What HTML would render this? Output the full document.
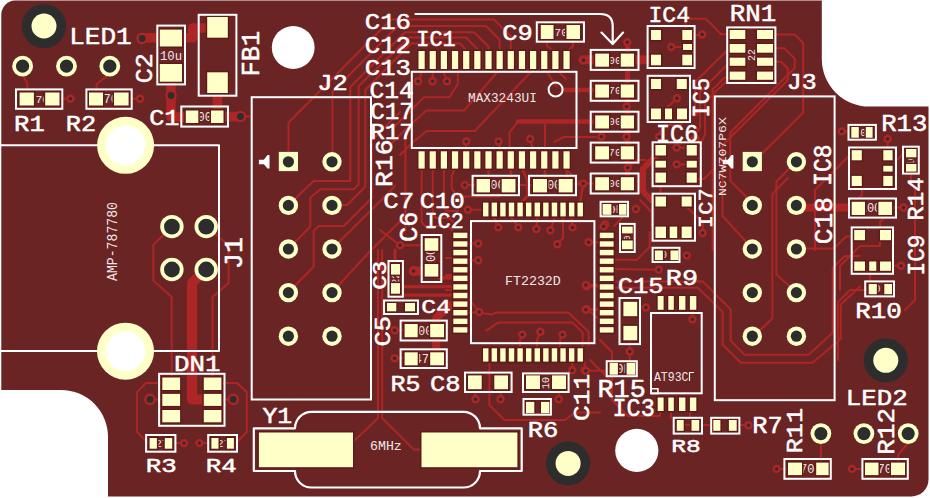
<!DOCTYPE html>
<html><head><meta charset="utf-8"><title>PCB</title>
<style>html,body{margin:0;padding:0;background:#fff;width:930px;height:498px;overflow:hidden}
svg{display:block;font-family:"Liberation Sans",sans-serif}</style></head>
<body>
<svg width="930" height="498" viewBox="0 0 930 498"><rect x="0" y="0" width="930" height="498" fill="#ffffff"/>
<path d="M15 0.6 L821.8 0.6 L821.8 59 A47.6 47.6 0 0 0 869.4 106.6 L928.5 106.6 L928.5 479.4 A17 17 0 0 1 911.5 496.4 L108 496.4 L108 436.8 A46.8 46.8 0 0 0 61.2 390 L1.3 390 L1.3 15 A14 14 0 0 1 15 0.6 Z" fill="#6b2424"/>
<path d="M22.6 74 L27.3 84 L27.3 93" fill="none" stroke="#ad2525" stroke-width="2" stroke-linejoin="round" stroke-linecap="round"/>
<path d="M109.8 74 L96.6 84 L96.6 93" fill="none" stroke="#ad2525" stroke-width="2" stroke-linejoin="round" stroke-linecap="round"/>
<path d="M59 98.8 L70.5 98.8" fill="none" stroke="#ad2525" stroke-width="2" stroke-linejoin="round" stroke-linecap="round"/>
<path d="M128 98.8 L140 98.8" fill="none" stroke="#ad2525" stroke-width="2" stroke-linejoin="round" stroke-linecap="round"/>
<path d="M142 37.8 L182 37.8 L192.7 37.8 L192.7 28 L212 28" fill="none" stroke="#ad2525" stroke-width="9.5" stroke-linejoin="round" stroke-linecap="round"/>
<path d="M171 75 L171 117 L192 117" fill="none" stroke="#ad2525" stroke-width="9.5" stroke-linejoin="round" stroke-linecap="round"/>
<path d="M217.5 85 L217.5 116.5 L240.5 116.5" fill="none" stroke="#ad2525" stroke-width="9.5" stroke-linejoin="round" stroke-linecap="round"/>
<path d="M240.5 116.5 L250 116.5" fill="none" stroke="#ad2525" stroke-width="2" stroke-linejoin="round" stroke-linecap="round"/>
<path d="M172 226.4 L153.3 245 L153.3 280.4 L171.7 297 L171.7 380" fill="none" stroke="#ad2525" stroke-width="2" stroke-linejoin="round" stroke-linecap="round"/>
<path d="M206 226.4 L228.6 245 L228.6 283 L212.5 297 L212.5 380" fill="none" stroke="#ad2525" stroke-width="2" stroke-linejoin="round" stroke-linecap="round"/>
<path d="M206 269 L192 283 L192 399.6 L206 399.6" fill="none" stroke="#ad2525" stroke-width="10" stroke-linejoin="round" stroke-linecap="round"/>
<path d="M150.3 399.6 L162 399.6" fill="none" stroke="#ad2525" stroke-width="2" stroke-linejoin="round" stroke-linecap="round"/>
<path d="M221.5 399.6 L232.9 399.6" fill="none" stroke="#ad2525" stroke-width="2" stroke-linejoin="round" stroke-linecap="round"/>
<path d="M165 383 L146.1 383 L137.1 391.9 L137.1 432 L148 443" fill="none" stroke="#ad2525" stroke-width="2" stroke-linejoin="round" stroke-linecap="round"/>
<path d="M218 383 L237.1 383 L246.8 391.9 L246.8 432 L236 443" fill="none" stroke="#ad2525" stroke-width="2" stroke-linejoin="round" stroke-linecap="round"/>
<path d="M172 443 L184 443" fill="none" stroke="#ad2525" stroke-width="2" stroke-linejoin="round" stroke-linecap="round"/>
<path d="M199.3 443 L211 443" fill="none" stroke="#ad2525" stroke-width="2" stroke-linejoin="round" stroke-linecap="round"/>
<path d="M288.5 152 L288.5 122.5 L391 19.5 L494 19.5 L510.8 36.3 L510.8 52" fill="none" stroke="#ad2525" stroke-width="2" stroke-linejoin="round" stroke-linecap="round"/>
<path d="M332.4 152 L332.4 92 L398 26 L486 26 L499.7 39.7 L499.7 52" fill="none" stroke="#ad2525" stroke-width="2" stroke-linejoin="round" stroke-linecap="round"/>
<path d="M288.5 205 L313.7 181 L350.3 181 L350.3 87 L405 32.3 L474 32.3 L488.5 46.8 L488.5 52" fill="none" stroke="#ad2525" stroke-width="2" stroke-linejoin="round" stroke-linecap="round"/>
<path d="M288.5 248.5 L310.3 226.7 L310.3 197.7 L320.3 189.3 L353.7 189.3 L358.7 184.3 L358.7 86 L409 37.5 L466 37.5 L477.4 49 L477.4 52" fill="none" stroke="#ad2525" stroke-width="2" stroke-linejoin="round" stroke-linecap="round"/>
<path d="M332.4 205 L347 205 L365.3 186.7 L365.3 90 L411 43.5 L460 43.5 L466.2 50 L466.2 52" fill="none" stroke="#ad2525" stroke-width="2" stroke-linejoin="round" stroke-linecap="round"/>
<path d="M288.5 292 L313.7 266.8 L313.7 231 L318.7 226 L343.7 226 L372 197.7 L372 140 L400 112" fill="none" stroke="#ad2525" stroke-width="2" stroke-linejoin="round" stroke-linecap="round"/>
<path d="M332.4 248.5 L370.3 211 L388.7 192.7 L395 186" fill="none" stroke="#ad2525" stroke-width="2" stroke-linejoin="round" stroke-linecap="round"/>
<path d="M332.4 292 L370.3 251 L405.3 216 L412 216" fill="none" stroke="#ad2525" stroke-width="2" stroke-linejoin="round" stroke-linecap="round"/>
<path d="M418 81.2 L421.6 73 L421.6 69" fill="none" stroke="#ad2525" stroke-width="2" stroke-linejoin="round" stroke-linecap="round"/>
<path d="M432.5 81.2 L432.75 73 L432.75 69" fill="none" stroke="#ad2525" stroke-width="2" stroke-linejoin="round" stroke-linecap="round"/>
<path d="M447 81.2 L443.9 73 L443.9 69" fill="none" stroke="#ad2525" stroke-width="2" stroke-linejoin="round" stroke-linecap="round"/>
<path d="M457.8 69 L457.8 84 L449.4 97.3 L424 97.3 L409.6 111.8 L395 126" fill="none" stroke="#ad2525" stroke-width="2" stroke-linejoin="round" stroke-linecap="round"/>
<path d="M500 69 L463.9 110.6 L426.5 110.6 L404.8 130 L392 143" fill="none" stroke="#ad2525" stroke-width="2" stroke-linejoin="round" stroke-linecap="round"/>
<path d="M533.7 69 L474.7 131 L426.5 131 L413.3 142 L400 155" fill="none" stroke="#ad2525" stroke-width="2" stroke-linejoin="round" stroke-linecap="round"/>
<path d="M544.9 69 L556.6 86.5" fill="none" stroke="#ad2525" stroke-width="2" stroke-linejoin="round" stroke-linecap="round"/>
<path d="M562.8 89.9 L596 89.9" fill="none" stroke="#ad2525" stroke-width="4.5" stroke-linejoin="round" stroke-linecap="round"/>
<path d="M556.1 69 L566 79" fill="none" stroke="#ad2525" stroke-width="2" stroke-linejoin="round" stroke-linecap="round"/>
<path d="M518 121.5 L596 121.5" fill="none" stroke="#ad2525" stroke-width="4.5" stroke-linejoin="round" stroke-linecap="round"/>
<path d="M518 121.5 L509.6 132.3 L509.6 151.5" fill="none" stroke="#ad2525" stroke-width="2" stroke-linejoin="round" stroke-linecap="round"/>
<path d="M545 121.5 L545 151.5" fill="none" stroke="#ad2525" stroke-width="2" stroke-linejoin="round" stroke-linecap="round"/>
<path d="M554.2 142 L563.9 137 L596 137" fill="none" stroke="#ad2525" stroke-width="2" stroke-linejoin="round" stroke-linecap="round"/>
<path d="M465.5 141.4 L466.2 148 L466.2 152" fill="none" stroke="#ad2525" stroke-width="2" stroke-linejoin="round" stroke-linecap="round"/>
<path d="M498.8 141.4 L499.7 148 L499.7 152" fill="none" stroke="#ad2525" stroke-width="2" stroke-linejoin="round" stroke-linecap="round"/>
<path d="M530.1 141.4 L533.1 148 L533.1 152" fill="none" stroke="#ad2525" stroke-width="2" stroke-linejoin="round" stroke-linecap="round"/>
<path d="M547 39 L547 46 L555.6 52" fill="none" stroke="#ad2525" stroke-width="2" stroke-linejoin="round" stroke-linecap="round"/>
<path d="M573 39 L573 46 L566.7 52" fill="none" stroke="#ad2525" stroke-width="2" stroke-linejoin="round" stroke-linecap="round"/>
<path d="M421.6 168 L421.6 222 L425 226 L448 226 L452 230" fill="none" stroke="#ad2525" stroke-width="2" stroke-linejoin="round" stroke-linecap="round"/>
<path d="M432.75 168 L432.75 214 L436 218 L449 218 L453 222" fill="none" stroke="#ad2525" stroke-width="2" stroke-linejoin="round" stroke-linecap="round"/>
<path d="M443.9 168 L443.9 208 L447 211 L458 211" fill="none" stroke="#ad2525" stroke-width="2" stroke-linejoin="round" stroke-linecap="round"/>
<path d="M455 168 L451.8 175.7 L451.8 189 L458 196.5 L500 196.5" fill="none" stroke="#ad2525" stroke-width="2" stroke-linejoin="round" stroke-linecap="round"/>
<path d="M405.4 140 L405.4 230 L400 236" fill="none" stroke="#ad2525" stroke-width="2" stroke-linejoin="round" stroke-linecap="round"/>
<path d="M565 168 L580 183.6 L583.3 183.6" fill="none" stroke="#ad2525" stroke-width="2" stroke-linejoin="round" stroke-linecap="round"/>
<path d="M510.8 168 L510.8 181" fill="none" stroke="#ad2525" stroke-width="3" stroke-linejoin="round" stroke-linecap="round"/>
<path d="M522 168 L527.5 181 L527.5 196 L520 203.5" fill="none" stroke="#ad2525" stroke-width="2.5" stroke-linejoin="round" stroke-linecap="round"/>
<path d="M566.7 168 L566.7 180" fill="none" stroke="#ad2525" stroke-width="2.5" stroke-linejoin="round" stroke-linecap="round"/>
<path d="M583.3 183.6 L581 197 L580.5 203" fill="none" stroke="#ad2525" stroke-width="2.5" stroke-linejoin="round" stroke-linecap="round"/>
<path d="M488.5 168 L488.5 178" fill="none" stroke="#ad2525" stroke-width="2.5" stroke-linejoin="round" stroke-linecap="round"/>
<path d="M545 168 L545 178 L540 183" fill="none" stroke="#ad2525" stroke-width="2.5" stroke-linejoin="round" stroke-linecap="round"/>
<path d="M582.9 59.8 L601 59.8" fill="none" stroke="#ad2525" stroke-width="9" stroke-linejoin="round" stroke-linecap="round"/>
<path d="M627.5 42.2 L627.5 190" fill="none" stroke="#ad2525" stroke-width="5" stroke-linejoin="round" stroke-linecap="round"/>
<path d="M627.5 59.8 L656 59.8" fill="none" stroke="#ad2525" stroke-width="9" stroke-linejoin="round" stroke-linecap="round"/>
<path d="M600 183.6 L583.3 183.6" fill="none" stroke="#ad2525" stroke-width="2" stroke-linejoin="round" stroke-linecap="round"/>
<path d="M687 35 L702.2 35" fill="none" stroke="#ad2525" stroke-width="2" stroke-linejoin="round" stroke-linecap="round"/>
<path d="M671.3 47 L687 47" fill="none" stroke="#ad2525" stroke-width="2" stroke-linejoin="round" stroke-linecap="round"/>
<path d="M685.4 28 L685.4 18.8 L705.9 18.8 L721.2 34.2 L737 34.2" fill="none" stroke="#ad2525" stroke-width="2" stroke-linejoin="round" stroke-linecap="round"/>
<path d="M676.9 98.3 L666 108.5" fill="none" stroke="#ad2525" stroke-width="2" stroke-linejoin="round" stroke-linecap="round"/>
<path d="M737 48 L726.4 51.2 L695 82 L695 110 L680 125 L667 125 L660 132 L660 146" fill="none" stroke="#ad2525" stroke-width="2" stroke-linejoin="round" stroke-linecap="round"/>
<path d="M737 61.7 L730 61.7 L700 92 L700 128 L690 140" fill="none" stroke="#ad2525" stroke-width="2" stroke-linejoin="round" stroke-linecap="round"/>
<path d="M737 75.7 L732 75.7 L705 102 L705 135 L701 142" fill="none" stroke="#ad2525" stroke-width="2" stroke-linejoin="round" stroke-linecap="round"/>
<path d="M691.4 179 L704 179 L714 169" fill="none" stroke="#ad2525" stroke-width="2" stroke-linejoin="round" stroke-linecap="round"/>
<path d="M677.9 147.7 L690 147.7" fill="none" stroke="#ad2525" stroke-width="2" stroke-linejoin="round" stroke-linecap="round"/>
<path d="M676.4 164.5 L690 164.5" fill="none" stroke="#ad2525" stroke-width="2" stroke-linejoin="round" stroke-linecap="round"/>
<path d="M660.5 187 L660.5 196" fill="none" stroke="#ad2525" stroke-width="2" stroke-linejoin="round" stroke-linecap="round"/>
<path d="M686.7 207 L702.8 222 L702.8 232.8" fill="none" stroke="#ad2525" stroke-width="2" stroke-linejoin="round" stroke-linecap="round"/>
<path d="M657 155 L643 168.5 L643 191.5 L652 200.5 L657 200.5" fill="none" stroke="#ad2525" stroke-width="6" stroke-linejoin="round" stroke-linecap="round"/>
<path d="M627.3 167.9 L636 160 L645 160" fill="none" stroke="#ad2525" stroke-width="2" stroke-linejoin="round" stroke-linecap="round"/>
<path d="M640 200 L651.6 212 L651.6 226.6" fill="none" stroke="#ad2525" stroke-width="2" stroke-linejoin="round" stroke-linecap="round"/>
<path d="M614 226 L626 214" fill="none" stroke="#ad2525" stroke-width="2" stroke-linejoin="round" stroke-linecap="round"/>
<path d="M611.4 209 L620 209" fill="none" stroke="#ad2525" stroke-width="2" stroke-linejoin="round" stroke-linecap="round"/>
<path d="M773 34.5 L794.7 34.5 L803.2 43 L803.2 112.7 L760 155.5" fill="none" stroke="#ad2525" stroke-width="2" stroke-linejoin="round" stroke-linecap="round"/>
<path d="M773 48.3 L784.4 48.3 L794.7 58.6 L794.7 68 L730.2 132.5 L730.2 180.6 L752.3 202.7" fill="none" stroke="#ad2525" stroke-width="2" stroke-linejoin="round" stroke-linecap="round"/>
<path d="M773 61.7 L781 61.7 L787.8 68.5 L787.8 80 L722.5 145.3 L722.5 216 L752.3 248.5" fill="none" stroke="#ad2525" stroke-width="2" stroke-linejoin="round" stroke-linecap="round"/>
<path d="M796.4 161.5 L776.4 181.5 L776.4 274.4 L796.4 292.5" fill="none" stroke="#ad2525" stroke-width="2" stroke-linejoin="round" stroke-linecap="round"/>
<path d="M788 178 L772.4 193.7 L772.4 318.6 L752.3 337" fill="none" stroke="#ad2525" stroke-width="2" stroke-linejoin="round" stroke-linecap="round"/>
<path d="M796.4 248.5 L834 248.5 L846 236.5 L856 236.5" fill="none" stroke="#ad2525" stroke-width="2" stroke-linejoin="round" stroke-linecap="round"/>
<path d="M737 76 L724 78 L712.6 89.5 L712.6 250" fill="none" stroke="#ad2525" stroke-width="2" stroke-linejoin="round" stroke-linecap="round"/>
<path d="M613 281.4 L702.6 281.4 L730.7 309.5 L730.7 340.7 L744.5 354.8 L808.5 354.8 L832.7 332.7 L832.7 268 L844.7 256 L860 256" fill="none" stroke="#ad2525" stroke-width="2" stroke-linejoin="round" stroke-linecap="round"/>
<path d="M613 287.8 L697.8 287.8 L722.7 311.9 L722.7 344.7 L740.8 362.8 L812.6 362.8 L840.7 338.7 L840.7 304.5 L860 286.4" fill="none" stroke="#ad2525" stroke-width="2" stroke-linejoin="round" stroke-linecap="round"/>
<path d="M613 259.8 L637 259.8 L649.7 247 L649.7 232" fill="none" stroke="#ad2525" stroke-width="2" stroke-linejoin="round" stroke-linecap="round"/>
<path d="M613 268.9 L658.7 269.8" fill="none" stroke="#ad2525" stroke-width="2" stroke-linejoin="round" stroke-linecap="round"/>
<path d="M796.4 207.5 L852 207.5" fill="none" stroke="#ad2525" stroke-width="8" stroke-linejoin="round" stroke-linecap="round"/>
<path d="M841.7 131.4 L852 131.4" fill="none" stroke="#ad2525" stroke-width="2" stroke-linejoin="round" stroke-linecap="round"/>
<path d="M887.6 139 L887.6 150" fill="none" stroke="#ad2525" stroke-width="2" stroke-linejoin="round" stroke-linecap="round"/>
<path d="M903.5 207.5 L892 207.5" fill="none" stroke="#ad2525" stroke-width="2" stroke-linejoin="round" stroke-linecap="round"/>
<path d="M862 186 L862 195 L855 201" fill="none" stroke="#ad2525" stroke-width="2" stroke-linejoin="round" stroke-linecap="round"/>
<path d="M862 155 L850 155 L815 190 L815 250" fill="none" stroke="#ad2525" stroke-width="2" stroke-linejoin="round" stroke-linecap="round"/>
<path d="M880 240 L880 246 L860 246 L840 266 L840 290" fill="none" stroke="#ad2525" stroke-width="2" stroke-linejoin="round" stroke-linecap="round"/>
<path d="M901 265.8 L891 265.8" fill="none" stroke="#ad2525" stroke-width="2" stroke-linejoin="round" stroke-linecap="round"/>
<path d="M870 270 L870 284" fill="none" stroke="#ad2525" stroke-width="2" stroke-linejoin="round" stroke-linecap="round"/>
<path d="M888 160 L897 160 L905 152" fill="none" stroke="#ad2525" stroke-width="2" stroke-linejoin="round" stroke-linecap="round"/>
<path d="M911 172 L911 180 L915 190 L915 300 L905 310" fill="none" stroke="#ad2525" stroke-width="2" stroke-linejoin="round" stroke-linecap="round"/>
<path d="M868.7 290 L850 290 L838 302 L838 360" fill="none" stroke="#ad2525" stroke-width="2" stroke-linejoin="round" stroke-linecap="round"/>
<path d="M880 230 L880 222 L895 207" fill="none" stroke="#ad2525" stroke-width="2" stroke-linejoin="round" stroke-linecap="round"/>
<path d="M464.8 185 L476.6 185" fill="none" stroke="#ad2525" stroke-width="2" stroke-linejoin="round" stroke-linecap="round"/>
<path d="M515.5 185 L533 185" fill="none" stroke="#ad2525" stroke-width="2" stroke-linejoin="round" stroke-linecap="round"/>
<path d="M572.7 185 L583.3 183.6" fill="none" stroke="#ad2525" stroke-width="2" stroke-linejoin="round" stroke-linecap="round"/>
<path d="M467.8 209.8 L483 209.8" fill="none" stroke="#ad2525" stroke-width="2" stroke-linejoin="round" stroke-linecap="round"/>
<path d="M498.2 227.4 L494.3 218 L494.3 216" fill="none" stroke="#ad2525" stroke-width="2" stroke-linejoin="round" stroke-linecap="round"/>
<path d="M518.3 227.4 L511.5 218 L511.5 216" fill="none" stroke="#ad2525" stroke-width="2" stroke-linejoin="round" stroke-linecap="round"/>
<path d="M536.4 229 L537.3 218 L537.3 216" fill="none" stroke="#ad2525" stroke-width="2" stroke-linejoin="round" stroke-linecap="round"/>
<path d="M550.4 230.2 L554.5 218 L554.5 216" fill="none" stroke="#ad2525" stroke-width="2" stroke-linejoin="round" stroke-linecap="round"/>
<path d="M572.5 227.4 L571.6 218 L571.6 216" fill="none" stroke="#ad2525" stroke-width="2" stroke-linejoin="round" stroke-linecap="round"/>
<path d="M557.3 244.3 L563 238 L563 216" fill="none" stroke="#ad2525" stroke-width="2" stroke-linejoin="round" stroke-linecap="round"/>
<path d="M588.6 242.2 L600 242.2" fill="none" stroke="#ad2525" stroke-width="2" stroke-linejoin="round" stroke-linecap="round"/>
<path d="M478.2 243.5 L467 243.5" fill="none" stroke="#ad2525" stroke-width="2" stroke-linejoin="round" stroke-linecap="round"/>
<path d="M478.2 260.3 L467 260.3" fill="none" stroke="#ad2525" stroke-width="2" stroke-linejoin="round" stroke-linecap="round"/>
<path d="M478.2 312.5 L467 312.5" fill="none" stroke="#ad2525" stroke-width="2" stroke-linejoin="round" stroke-linecap="round"/>
<path d="M586.6 286.4 L600 286.4" fill="none" stroke="#ad2525" stroke-width="2" stroke-linejoin="round" stroke-linecap="round"/>
<path d="M586.6 309.3 L600 309.3" fill="none" stroke="#ad2525" stroke-width="2" stroke-linejoin="round" stroke-linecap="round"/>
<path d="M603.6 226.4 L606 224" fill="none" stroke="#ad2525" stroke-width="2" stroke-linejoin="round" stroke-linecap="round"/>
<path d="M400 245.3 L420 245.3 L431 240" fill="none" stroke="#ad2525" stroke-width="2" stroke-linejoin="round" stroke-linecap="round"/>
<path d="M413.6 271.1 L430 271.1" fill="none" stroke="#ad2525" stroke-width="9" stroke-linejoin="round" stroke-linecap="round"/>
<path d="M439 277.8 L455 277.8" fill="none" stroke="#ad2525" stroke-width="3.5" stroke-linejoin="round" stroke-linecap="round"/>
<path d="M395 250 L395 266" fill="none" stroke="#ad2525" stroke-width="3" stroke-linejoin="round" stroke-linecap="round"/>
<path d="M380 230 L400 245.3" fill="none" stroke="#ad2525" stroke-width="2" stroke-linejoin="round" stroke-linecap="round"/>
<path d="M446 258 L453 258" fill="none" stroke="#ad2525" stroke-width="2" stroke-linejoin="round" stroke-linecap="round"/>
<path d="M446 275 L453 275" fill="none" stroke="#ad2525" stroke-width="2" stroke-linejoin="round" stroke-linecap="round"/>
<path d="M446 290 L453 290" fill="none" stroke="#ad2525" stroke-width="2" stroke-linejoin="round" stroke-linecap="round"/>
<path d="M478 312.5 L492 314.5 L496 312.5 L568.5 312.5 L588.6 331.8 L588.6 345" fill="none" stroke="#ad2525" stroke-width="2" stroke-linejoin="round" stroke-linecap="round"/>
<path d="M486.2 330.6 L498.2 322.6 L572.5 322.6 L582.6 332.6 L582.6 350" fill="none" stroke="#ad2525" stroke-width="2" stroke-linejoin="round" stroke-linecap="round"/>
<path d="M522.3 334.6 L520 340 L520 348" fill="none" stroke="#ad2525" stroke-width="2" stroke-linejoin="round" stroke-linecap="round"/>
<path d="M540.4 331.8 L537 340 L537 348" fill="none" stroke="#ad2525" stroke-width="2" stroke-linejoin="round" stroke-linecap="round"/>
<path d="M562.5 334.6 L560 340 L560 348" fill="none" stroke="#ad2525" stroke-width="2" stroke-linejoin="round" stroke-linecap="round"/>
<path d="M394.6 330.2 L404.6 330.2" fill="none" stroke="#ad2525" stroke-width="2" stroke-linejoin="round" stroke-linecap="round"/>
<path d="M394.6 358.3 L404.6 358.3" fill="none" stroke="#ad2525" stroke-width="2" stroke-linejoin="round" stroke-linecap="round"/>
<path d="M479.2 312 L470 300 L455 300" fill="none" stroke="#ad2525" stroke-width="2" stroke-linejoin="round" stroke-linecap="round"/>
<path d="M587.3 309.6 L600 320" fill="none" stroke="#ad2525" stroke-width="2" stroke-linejoin="round" stroke-linecap="round"/>
<path d="M475.5 389 L475.5 399.3" fill="none" stroke="#ad2525" stroke-width="2" stroke-linejoin="round" stroke-linecap="round"/>
<path d="M500.6 389 L500.6 399.3" fill="none" stroke="#ad2525" stroke-width="2" stroke-linejoin="round" stroke-linecap="round"/>
<path d="M558.8 389 L558.8 399.3" fill="none" stroke="#ad2525" stroke-width="2" stroke-linejoin="round" stroke-linecap="round"/>
<path d="M489.4 362 L489.4 405 L504.5 420 L565 420 L575 412.5 L600 412.5" fill="none" stroke="#ad2525" stroke-width="2" stroke-linejoin="round" stroke-linecap="round"/>
<path d="M572.2 370.4 L572.2 360" fill="none" stroke="#ad2525" stroke-width="2" stroke-linejoin="round" stroke-linecap="round"/>
<path d="M584.8 370.4 L584.8 362" fill="none" stroke="#ad2525" stroke-width="2" stroke-linejoin="round" stroke-linecap="round"/>
<path d="M590 360 L610 380 L610 395" fill="none" stroke="#ad2525" stroke-width="2" stroke-linejoin="round" stroke-linecap="round"/>
<path d="M585.8 285 L600 285" fill="none" stroke="#ad2525" stroke-width="2" stroke-linejoin="round" stroke-linecap="round"/>
<path d="M585.8 309.8 L600 309.8" fill="none" stroke="#ad2525" stroke-width="2" stroke-linejoin="round" stroke-linecap="round"/>
<path d="M645.9 307.5 L637 307.5" fill="none" stroke="#ad2525" stroke-width="2" stroke-linejoin="round" stroke-linecap="round"/>
<path d="M692.4 319.4 L692.4 309.8" fill="none" stroke="#ad2525" stroke-width="2" stroke-linejoin="round" stroke-linecap="round"/>
<path d="M629.8 351.5 L629.8 340.3" fill="none" stroke="#ad2525" stroke-width="2" stroke-linejoin="round" stroke-linecap="round"/>
<path d="M629.8 351.5 L629.8 362.8" fill="none" stroke="#ad2525" stroke-width="2" stroke-linejoin="round" stroke-linecap="round"/>
<path d="M585.8 370.8 L609.6 370.8" fill="none" stroke="#ad2525" stroke-width="2" stroke-linejoin="round" stroke-linecap="round"/>
<path d="M600 340 L612 352 L612 400 L628 416 L660 416 L660 411" fill="none" stroke="#ad2525" stroke-width="2" stroke-linejoin="round" stroke-linecap="round"/>
<path d="M683.7 425 L710 425" fill="none" stroke="#ad2525" stroke-width="2" stroke-linejoin="round" stroke-linecap="round"/>
<path d="M736.7 425 L748.5 425" fill="none" stroke="#ad2525" stroke-width="2" stroke-linejoin="round" stroke-linecap="round"/>
<path d="M671 411 L671 418" fill="none" stroke="#ad2525" stroke-width="2" stroke-linejoin="round" stroke-linecap="round"/>
<path d="M690 411 L690 417" fill="none" stroke="#ad2525" stroke-width="2" stroke-linejoin="round" stroke-linecap="round"/>
<path d="M820.9 443 L820.9 463" fill="none" stroke="#ad2525" stroke-width="2" stroke-linejoin="round" stroke-linecap="round"/>
<path d="M776.6 468.9 L788 468.9" fill="none" stroke="#ad2525" stroke-width="2" stroke-linejoin="round" stroke-linecap="round"/>
<path d="M852 468.9 L865 468.9" fill="none" stroke="#ad2525" stroke-width="2" stroke-linejoin="round" stroke-linecap="round"/>
<path d="M908.2 443 L898 455 L898 463" fill="none" stroke="#ad2525" stroke-width="2" stroke-linejoin="round" stroke-linecap="round"/>
<path d="M378 250 L378 418.2 L353 442" fill="none" stroke="#ad2525" stroke-width="2" stroke-linejoin="round" stroke-linecap="round"/>
<path d="M382.2 250 L382.2 418.2 L414 449.6 L422 449.6" fill="none" stroke="#ad2525" stroke-width="2" stroke-linejoin="round" stroke-linecap="round"/>
<path d="M436.2 364 L436.2 318 L449 305.5 L456 305.5" fill="none" stroke="#ad2525" stroke-width="8" stroke-linejoin="round" stroke-linecap="round"/>
<path d="M403 286.6 L456 286.6" fill="none" stroke="#ad2525" stroke-width="3.2" stroke-linejoin="round" stroke-linecap="round"/>
<path d="M403 295.2 L456 295.2" fill="none" stroke="#ad2525" stroke-width="3.2" stroke-linejoin="round" stroke-linecap="round"/>
<circle cx="142.1" cy="38.4" r="5.8" fill="#ad2525"/>
<circle cx="142.1" cy="38.4" r="3.4" fill="#2d2d2d"/>
<circle cx="171" cy="95.5" r="5.8" fill="#ad2525"/>
<circle cx="171" cy="95.5" r="3.4" fill="#2d2d2d"/>
<circle cx="240.5" cy="116.5" r="5.8" fill="#ad2525"/>
<circle cx="240.5" cy="116.5" r="3.4" fill="#2d2d2d"/>
<circle cx="150" cy="399.4" r="5.8" fill="#ad2525"/>
<circle cx="150" cy="399.4" r="3.4" fill="#2d2d2d"/>
<circle cx="233.2" cy="399.4" r="5.8" fill="#ad2525"/>
<circle cx="233.2" cy="399.4" r="3.4" fill="#2d2d2d"/>
<circle cx="413.6" cy="271.1" r="5" fill="#ad2525"/>
<circle cx="413.6" cy="271.1" r="1.7" fill="#2d2d2d"/>
<circle cx="70.5" cy="98.8" r="4.2" fill="#ad2525"/>
<circle cx="70.5" cy="98.8" r="1.7" fill="#2d2d2d"/>
<circle cx="140" cy="98.8" r="4.2" fill="#ad2525"/>
<circle cx="140" cy="98.8" r="1.7" fill="#2d2d2d"/>
<circle cx="184" cy="443.1" r="4.2" fill="#ad2525"/>
<circle cx="184" cy="443.1" r="1.7" fill="#2d2d2d"/>
<circle cx="199.3" cy="443.1" r="4.2" fill="#ad2525"/>
<circle cx="199.3" cy="443.1" r="1.7" fill="#2d2d2d"/>
<circle cx="418" cy="81.2" r="4.2" fill="#ad2525"/>
<circle cx="418" cy="81.2" r="1.7" fill="#2d2d2d"/>
<circle cx="432.5" cy="81.2" r="4.2" fill="#ad2525"/>
<circle cx="432.5" cy="81.2" r="1.7" fill="#2d2d2d"/>
<circle cx="447" cy="81.2" r="4.2" fill="#ad2525"/>
<circle cx="447" cy="81.2" r="1.7" fill="#2d2d2d"/>
<circle cx="466.3" cy="141.5" r="4.2" fill="#ad2525"/>
<circle cx="466.3" cy="141.5" r="1.7" fill="#2d2d2d"/>
<circle cx="498.5" cy="141.5" r="4.2" fill="#ad2525"/>
<circle cx="498.5" cy="141.5" r="1.7" fill="#2d2d2d"/>
<circle cx="530.1" cy="139" r="4.2" fill="#ad2525"/>
<circle cx="530.1" cy="139" r="1.7" fill="#2d2d2d"/>
<circle cx="583.5" cy="60.3" r="4.2" fill="#ad2525"/>
<circle cx="583.5" cy="60.3" r="1.7" fill="#2d2d2d"/>
<circle cx="627.3" cy="42.2" r="4.2" fill="#ad2525"/>
<circle cx="627.3" cy="42.2" r="1.7" fill="#2d2d2d"/>
<circle cx="626.5" cy="106.6" r="4.2" fill="#ad2525"/>
<circle cx="626.5" cy="106.6" r="1.7" fill="#2d2d2d"/>
<circle cx="601.4" cy="136.7" r="4.2" fill="#ad2525"/>
<circle cx="601.4" cy="136.7" r="1.7" fill="#2d2d2d"/>
<circle cx="626.5" cy="136.7" r="4.2" fill="#ad2525"/>
<circle cx="626.5" cy="136.7" r="1.7" fill="#2d2d2d"/>
<circle cx="627.7" cy="167.6" r="4.2" fill="#ad2525"/>
<circle cx="627.7" cy="167.6" r="1.7" fill="#2d2d2d"/>
<circle cx="635.8" cy="209" r="4.2" fill="#ad2525"/>
<circle cx="635.8" cy="209" r="1.7" fill="#2d2d2d"/>
<circle cx="605.1" cy="224.2" r="4.2" fill="#ad2525"/>
<circle cx="605.1" cy="224.2" r="1.7" fill="#2d2d2d"/>
<circle cx="686.8" cy="255.6" r="4.2" fill="#ad2525"/>
<circle cx="686.8" cy="255.6" r="1.7" fill="#2d2d2d"/>
<circle cx="702.6" cy="233" r="4.2" fill="#ad2525"/>
<circle cx="702.6" cy="233" r="1.7" fill="#2d2d2d"/>
<circle cx="676.7" cy="147.5" r="4.2" fill="#ad2525"/>
<circle cx="676.7" cy="147.5" r="1.7" fill="#2d2d2d"/>
<circle cx="676.7" cy="164.4" r="4.2" fill="#ad2525"/>
<circle cx="676.7" cy="164.4" r="1.7" fill="#2d2d2d"/>
<circle cx="702.2" cy="34.5" r="4.2" fill="#ad2525"/>
<circle cx="702.2" cy="34.5" r="1.7" fill="#2d2d2d"/>
<circle cx="671.3" cy="47" r="4.2" fill="#ad2525"/>
<circle cx="671.3" cy="47" r="1.7" fill="#2d2d2d"/>
<circle cx="676.9" cy="98.3" r="4.2" fill="#ad2525"/>
<circle cx="676.9" cy="98.3" r="1.7" fill="#2d2d2d"/>
<circle cx="694.3" cy="112.9" r="4.2" fill="#ad2525"/>
<circle cx="694.3" cy="112.9" r="1.7" fill="#2d2d2d"/>
<circle cx="659.1" cy="136.7" r="4.2" fill="#ad2525"/>
<circle cx="659.1" cy="136.7" r="1.7" fill="#2d2d2d"/>
<circle cx="695.6" cy="139.2" r="4.2" fill="#ad2525"/>
<circle cx="695.6" cy="139.2" r="1.7" fill="#2d2d2d"/>
<circle cx="464.8" cy="185" r="4.2" fill="#ad2525"/>
<circle cx="464.8" cy="185" r="1.7" fill="#2d2d2d"/>
<circle cx="583.3" cy="183.6" r="4.2" fill="#ad2525"/>
<circle cx="583.3" cy="183.6" r="1.7" fill="#2d2d2d"/>
<circle cx="467.8" cy="209.8" r="4.2" fill="#ad2525"/>
<circle cx="467.8" cy="209.8" r="1.7" fill="#2d2d2d"/>
<circle cx="498.2" cy="227.4" r="4.2" fill="#ad2525"/>
<circle cx="498.2" cy="227.4" r="1.7" fill="#2d2d2d"/>
<circle cx="518.3" cy="227.4" r="4.2" fill="#ad2525"/>
<circle cx="518.3" cy="227.4" r="1.7" fill="#2d2d2d"/>
<circle cx="536.4" cy="229" r="4.2" fill="#ad2525"/>
<circle cx="536.4" cy="229" r="1.7" fill="#2d2d2d"/>
<circle cx="550.4" cy="230.2" r="4.2" fill="#ad2525"/>
<circle cx="550.4" cy="230.2" r="1.7" fill="#2d2d2d"/>
<circle cx="572.5" cy="227.4" r="4.2" fill="#ad2525"/>
<circle cx="572.5" cy="227.4" r="1.7" fill="#2d2d2d"/>
<circle cx="557.3" cy="244.3" r="4.2" fill="#ad2525"/>
<circle cx="557.3" cy="244.3" r="1.7" fill="#2d2d2d"/>
<circle cx="588.6" cy="242.2" r="4.2" fill="#ad2525"/>
<circle cx="588.6" cy="242.2" r="1.7" fill="#2d2d2d"/>
<circle cx="478.2" cy="243.5" r="4.2" fill="#ad2525"/>
<circle cx="478.2" cy="243.5" r="1.7" fill="#2d2d2d"/>
<circle cx="478.2" cy="260.3" r="4.2" fill="#ad2525"/>
<circle cx="478.2" cy="260.3" r="1.7" fill="#2d2d2d"/>
<circle cx="586.6" cy="286.4" r="4.2" fill="#ad2525"/>
<circle cx="586.6" cy="286.4" r="1.7" fill="#2d2d2d"/>
<circle cx="586.6" cy="309.3" r="4.2" fill="#ad2525"/>
<circle cx="586.6" cy="309.3" r="1.7" fill="#2d2d2d"/>
<circle cx="603.6" cy="226.4" r="4.2" fill="#ad2525"/>
<circle cx="603.6" cy="226.4" r="1.7" fill="#2d2d2d"/>
<circle cx="400" cy="245.3" r="4.2" fill="#ad2525"/>
<circle cx="400" cy="245.3" r="1.7" fill="#2d2d2d"/>
<circle cx="394.6" cy="330.2" r="4.2" fill="#ad2525"/>
<circle cx="394.6" cy="330.2" r="1.7" fill="#2d2d2d"/>
<circle cx="394.6" cy="358.3" r="4.2" fill="#ad2525"/>
<circle cx="394.6" cy="358.3" r="1.7" fill="#2d2d2d"/>
<circle cx="479.2" cy="312" r="4.2" fill="#ad2525"/>
<circle cx="479.2" cy="312" r="1.7" fill="#2d2d2d"/>
<circle cx="522.3" cy="334.6" r="4.2" fill="#ad2525"/>
<circle cx="522.3" cy="334.6" r="1.7" fill="#2d2d2d"/>
<circle cx="540.4" cy="331.8" r="4.2" fill="#ad2525"/>
<circle cx="540.4" cy="331.8" r="1.7" fill="#2d2d2d"/>
<circle cx="562.5" cy="334.6" r="4.2" fill="#ad2525"/>
<circle cx="562.5" cy="334.6" r="1.7" fill="#2d2d2d"/>
<circle cx="572.2" cy="370.4" r="4.2" fill="#ad2525"/>
<circle cx="572.2" cy="370.4" r="1.7" fill="#2d2d2d"/>
<circle cx="584.8" cy="370.4" r="4.2" fill="#ad2525"/>
<circle cx="584.8" cy="370.4" r="1.7" fill="#2d2d2d"/>
<circle cx="475.5" cy="399.3" r="4.2" fill="#ad2525"/>
<circle cx="475.5" cy="399.3" r="1.7" fill="#2d2d2d"/>
<circle cx="500.6" cy="399.3" r="4.2" fill="#ad2525"/>
<circle cx="500.6" cy="399.3" r="1.7" fill="#2d2d2d"/>
<circle cx="558.8" cy="399.3" r="4.2" fill="#ad2525"/>
<circle cx="558.8" cy="399.3" r="1.7" fill="#2d2d2d"/>
<circle cx="585.8" cy="285" r="4.2" fill="#ad2525"/>
<circle cx="585.8" cy="285" r="1.7" fill="#2d2d2d"/>
<circle cx="585.8" cy="309.8" r="4.2" fill="#ad2525"/>
<circle cx="585.8" cy="309.8" r="1.7" fill="#2d2d2d"/>
<circle cx="645.9" cy="307.5" r="4.2" fill="#ad2525"/>
<circle cx="645.9" cy="307.5" r="1.7" fill="#2d2d2d"/>
<circle cx="692.4" cy="319.4" r="4.2" fill="#ad2525"/>
<circle cx="692.4" cy="319.4" r="1.7" fill="#2d2d2d"/>
<circle cx="629.8" cy="351.5" r="4.2" fill="#ad2525"/>
<circle cx="629.8" cy="351.5" r="1.7" fill="#2d2d2d"/>
<circle cx="585.8" cy="370.8" r="4.2" fill="#ad2525"/>
<circle cx="585.8" cy="370.8" r="1.7" fill="#2d2d2d"/>
<circle cx="748.5" cy="425.2" r="4.2" fill="#ad2525"/>
<circle cx="748.5" cy="425.2" r="1.7" fill="#2d2d2d"/>
<circle cx="841.7" cy="131.4" r="4.2" fill="#ad2525"/>
<circle cx="841.7" cy="131.4" r="1.7" fill="#2d2d2d"/>
<circle cx="887.6" cy="139" r="4.2" fill="#ad2525"/>
<circle cx="887.6" cy="139" r="1.7" fill="#2d2d2d"/>
<circle cx="903.5" cy="207.5" r="4.2" fill="#ad2525"/>
<circle cx="903.5" cy="207.5" r="1.7" fill="#2d2d2d"/>
<circle cx="901" cy="265.8" r="4.2" fill="#ad2525"/>
<circle cx="901" cy="265.8" r="1.7" fill="#2d2d2d"/>
<circle cx="776.6" cy="468.9" r="4.2" fill="#ad2525"/>
<circle cx="776.6" cy="468.9" r="1.7" fill="#2d2d2d"/>
<circle cx="852" cy="468.9" r="4.2" fill="#ad2525"/>
<circle cx="852" cy="468.9" r="1.7" fill="#2d2d2d"/>
<circle cx="658.7" cy="269.8" r="4.2" fill="#ad2525"/>
<circle cx="658.7" cy="269.8" r="1.7" fill="#2d2d2d"/>
<text x="38.85" y="102.89" font-family="Liberation Mono" font-size="11.5" fill="#f0e8e8" text-anchor="middle">470</text>
<text x="107.05" y="103.06" font-family="Liberation Mono" font-size="12" fill="#f0e8e8" text-anchor="middle">470</text>
<text x="201.15" y="120.51" font-family="Liberation Mono" font-size="12" fill="#f0e8e8" text-anchor="middle">100</text>
<text x="557.9" y="35.63" font-family="Liberation Mono" font-size="11" fill="#f0e8e8" text-anchor="middle">470</text>
<text x="611.6" y="63.53" font-family="Liberation Mono" font-size="11" fill="#f0e8e8" text-anchor="middle">100</text>
<text x="611.6" y="94.43" font-family="Liberation Mono" font-size="11" fill="#f0e8e8" text-anchor="middle">470</text>
<text x="611.6" y="125.33" font-family="Liberation Mono" font-size="11" fill="#f0e8e8" text-anchor="middle">100</text>
<text x="611.6" y="156.23" font-family="Liberation Mono" font-size="11" fill="#f0e8e8" text-anchor="middle">470</text>
<text x="611.6" y="187.13" font-family="Liberation Mono" font-size="11" fill="#f0e8e8" text-anchor="middle">100</text>
<text x="493.8" y="189.46" font-family="Liberation Mono" font-size="12" fill="#f0e8e8" text-anchor="middle">100</text>
<text x="550.5" y="189.46" font-family="Liberation Mono" font-size="12" fill="#f0e8e8" text-anchor="middle">100</text>
<text x="612.3" y="212.68" font-family="Liberation Mono" font-size="11" fill="#f0e8e8" text-anchor="middle">10k</text>
<text x="421.7" y="334.51" font-family="Liberation Mono" font-size="12" fill="#f0e8e8" text-anchor="middle">100</text>
<text x="421.7" y="362.61" font-family="Liberation Mono" font-size="12" fill="#f0e8e8" text-anchor="middle">47</text>
<text x="619.75" y="372.66" font-family="Liberation Mono" font-size="12" fill="#f0e8e8" text-anchor="middle">10k</text>
<text x="664.05" y="258.2" font-family="Liberation Mono" font-size="10" fill="#f0e8e8" text-anchor="middle">0</text>
<text x="860.2" y="135.6" font-family="Liberation Mono" font-size="10" fill="#f0e8e8" text-anchor="middle">10</text>
<text x="870.5" y="212.01" font-family="Liberation Mono" font-size="12" fill="#f0e8e8" text-anchor="middle">100</text>
<text x="877.6" y="292.2" font-family="Liberation Mono" font-size="10" fill="#f0e8e8" text-anchor="middle">0</text>
<text x="803.6" y="472.86" font-family="Liberation Mono" font-size="12" fill="#f0e8e8" text-anchor="middle">470</text>
<text x="881.1" y="472.86" font-family="Liberation Mono" font-size="12" fill="#f0e8e8" text-anchor="middle">470</text>
<text x="161.85" y="446.98" font-family="Liberation Mono" font-size="11" fill="#f0e8e8" text-anchor="middle">27</text>
<text x="223.7" y="446.98" font-family="Liberation Mono" font-size="11" fill="#f0e8e8" text-anchor="middle">27</text>
<text x="431.5" y="262.46" font-family="Liberation Mono" font-size="12" fill="#f0e8e8" text-anchor="middle" transform="rotate(-90 431.5 258.5)">100</text>
<text x="395.7" y="282.15" font-family="Liberation Mono" font-size="10" fill="#f0e8e8" text-anchor="middle" transform="rotate(-90 395.7 278.85)">22</text>
<text x="627.35" y="240.92" font-family="Liberation Mono" font-size="9" fill="#f0e8e8" text-anchor="middle" transform="rotate(-90 627.35 237.95)">10k</text>
<text x="910.9" y="163.45" font-family="Liberation Mono" font-size="10" fill="#f0e8e8" text-anchor="middle" transform="rotate(-90 910.9 160.15)">10</text>
<text x="752" y="58.3" font-family="Liberation Mono" font-size="10" fill="#f0e8e8" text-anchor="middle" transform="rotate(-90 752 55)">22</text>
<text x="171" y="59.56" font-family="Liberation Mono" font-size="12.3" fill="#f0e8e8" text-anchor="middle">10u</text>
<text x="546" y="386.3" font-family="Liberation Mono" font-size="10" fill="#f0e8e8" text-anchor="middle" transform="rotate(-90 546 383)">10</text>
<rect x="18.1" y="91" width="17.3" height="16" fill="#5e1a1a"/>
<rect x="19.6" y="92.5" width="14.3" height="13" fill="#ffffc8"/>
<rect x="43.7" y="91" width="17.3" height="16" fill="#5e1a1a"/>
<rect x="45.2" y="92.5" width="14.3" height="13" fill="#ffffc8"/>
<rect x="87.5" y="91" width="17" height="16" fill="#5e1a1a"/>
<rect x="89" y="92.5" width="14" height="13" fill="#ffffc8"/>
<rect x="112.5" y="91" width="17.6" height="16" fill="#5e1a1a"/>
<rect x="114" y="92.5" width="14.6" height="13" fill="#ffffc8"/>
<rect x="184.3" y="109" width="15.5" height="15.5" fill="#5e1a1a"/>
<rect x="185.8" y="110.5" width="12.5" height="12.5" fill="#ffffc8"/>
<rect x="209.5" y="109" width="15.5" height="15.5" fill="#5e1a1a"/>
<rect x="211" y="110.5" width="12.5" height="12.5" fill="#ffffc8"/>
<rect x="539.3" y="23.5" width="15.7" height="17" fill="#5e1a1a"/>
<rect x="540.8" y="25" width="12.7" height="14" fill="#ffffc8"/>
<rect x="565" y="23.5" width="16.5" height="17" fill="#5e1a1a"/>
<rect x="566.5" y="25" width="13.5" height="14" fill="#ffffc8"/>
<rect x="593.7" y="52.1" width="16.8" height="16.1" fill="#5e1a1a"/>
<rect x="595.2" y="53.6" width="13.8" height="13.1" fill="#ffffc8"/>
<rect x="619.3" y="52.1" width="16.2" height="16.1" fill="#5e1a1a"/>
<rect x="620.8" y="53.6" width="13.2" height="13.1" fill="#ffffc8"/>
<rect x="593.7" y="83" width="16.8" height="16.1" fill="#5e1a1a"/>
<rect x="595.2" y="84.5" width="13.8" height="13.1" fill="#ffffc8"/>
<rect x="619.3" y="83" width="16.2" height="16.1" fill="#5e1a1a"/>
<rect x="620.8" y="84.5" width="13.2" height="13.1" fill="#ffffc8"/>
<rect x="593.7" y="113.9" width="16.8" height="16.1" fill="#5e1a1a"/>
<rect x="595.2" y="115.4" width="13.8" height="13.1" fill="#ffffc8"/>
<rect x="619.3" y="113.9" width="16.2" height="16.1" fill="#5e1a1a"/>
<rect x="620.8" y="115.4" width="13.2" height="13.1" fill="#ffffc8"/>
<rect x="593.7" y="144.8" width="16.8" height="16.1" fill="#5e1a1a"/>
<rect x="595.2" y="146.3" width="13.8" height="13.1" fill="#ffffc8"/>
<rect x="619.3" y="144.8" width="16.2" height="16.1" fill="#5e1a1a"/>
<rect x="620.8" y="146.3" width="13.2" height="13.1" fill="#ffffc8"/>
<rect x="593.7" y="175.7" width="16.8" height="16.1" fill="#5e1a1a"/>
<rect x="595.2" y="177.2" width="13.8" height="13.1" fill="#ffffc8"/>
<rect x="619.3" y="175.7" width="16.2" height="16.1" fill="#5e1a1a"/>
<rect x="620.8" y="177.2" width="13.2" height="13.1" fill="#ffffc8"/>
<rect x="475.1" y="177.5" width="16.4" height="16.4" fill="#5e1a1a"/>
<rect x="476.6" y="179" width="13.4" height="13.4" fill="#ffffc8"/>
<rect x="500.2" y="177.5" width="16.8" height="16.4" fill="#5e1a1a"/>
<rect x="501.7" y="179" width="13.8" height="13.4" fill="#ffffc8"/>
<rect x="531.5" y="177.5" width="17" height="16.4" fill="#5e1a1a"/>
<rect x="533" y="179" width="14" height="13.4" fill="#ffffc8"/>
<rect x="557.2" y="177.5" width="17" height="16.4" fill="#5e1a1a"/>
<rect x="558.7" y="179" width="14" height="13.4" fill="#ffffc8"/>
<rect x="601.1" y="202.5" width="11.8" height="13.8" fill="#5e1a1a"/>
<rect x="602.6" y="204" width="8.8" height="10.8" fill="#ffffc8"/>
<rect x="617.5" y="202.5" width="10.5" height="13.8" fill="#5e1a1a"/>
<rect x="619" y="204" width="7.5" height="10.8" fill="#ffffc8"/>
<rect x="385.5" y="301.5" width="12.3" height="11.3" fill="#5e1a1a"/>
<rect x="387" y="303" width="9.3" height="8.3" fill="#ffffc8"/>
<rect x="403.5" y="301.5" width="13" height="11.3" fill="#5e1a1a"/>
<rect x="405" y="303" width="10" height="8.3" fill="#ffffc8"/>
<rect x="403.1" y="322.5" width="16.1" height="16.2" fill="#5e1a1a"/>
<rect x="404.6" y="324" width="13.1" height="13.2" fill="#ffffc8"/>
<rect x="428.7" y="322.5" width="16.8" height="16.2" fill="#5e1a1a"/>
<rect x="430.2" y="324" width="13.8" height="13.2" fill="#ffffc8"/>
<rect x="403.1" y="350.8" width="16.1" height="16" fill="#5e1a1a"/>
<rect x="404.6" y="352.3" width="13.1" height="13" fill="#ffffc8"/>
<rect x="428.7" y="350.8" width="16.8" height="16" fill="#5e1a1a"/>
<rect x="430.2" y="352.3" width="13.8" height="13" fill="#ffffc8"/>
<rect x="466.5" y="373.9" width="16.7" height="16.8" fill="#5e1a1a"/>
<rect x="468" y="375.4" width="13.7" height="13.8" fill="#ffffc8"/>
<rect x="492.8" y="373.9" width="16.7" height="16.8" fill="#5e1a1a"/>
<rect x="494.3" y="375.4" width="13.7" height="13.8" fill="#ffffc8"/>
<rect x="524.5" y="373.9" width="17" height="16.6" fill="#5e1a1a"/>
<rect x="526" y="375.4" width="14" height="13.6" fill="#ffffc8"/>
<rect x="550.5" y="373.9" width="17" height="16.6" fill="#5e1a1a"/>
<rect x="552" y="375.4" width="14" height="13.6" fill="#ffffc8"/>
<rect x="524.5" y="400.4" width="11.3" height="14.3" fill="#5e1a1a"/>
<rect x="526" y="401.9" width="8.3" height="11.3" fill="#ffffc8"/>
<rect x="539.5" y="400.4" width="11.3" height="14.3" fill="#5e1a1a"/>
<rect x="541" y="401.9" width="8.3" height="11.3" fill="#ffffc8"/>
<rect x="608.1" y="361.3" width="11.3" height="14.9" fill="#5e1a1a"/>
<rect x="609.6" y="362.8" width="8.3" height="11.9" fill="#ffffc8"/>
<rect x="625.1" y="361.3" width="11.7" height="14.9" fill="#5e1a1a"/>
<rect x="626.6" y="362.8" width="8.7" height="11.9" fill="#ffffc8"/>
<rect x="653.4" y="249" width="11" height="12.6" fill="#5e1a1a"/>
<rect x="654.9" y="250.5" width="8" height="9.6" fill="#ffffc8"/>
<rect x="669" y="249" width="11" height="12.6" fill="#5e1a1a"/>
<rect x="670.5" y="250.5" width="8" height="9.6" fill="#ffffc8"/>
<rect x="849.8" y="125.5" width="10.5" height="13.7" fill="#5e1a1a"/>
<rect x="851.3" y="127" width="7.5" height="10.7" fill="#ffffc8"/>
<rect x="864.3" y="125.5" width="9.8" height="13.7" fill="#5e1a1a"/>
<rect x="865.8" y="127" width="6.8" height="10.7" fill="#ffffc8"/>
<rect x="850.2" y="200.3" width="16.3" height="16.2" fill="#5e1a1a"/>
<rect x="851.7" y="201.8" width="13.3" height="13.2" fill="#ffffc8"/>
<rect x="876.9" y="200.3" width="16.6" height="16.2" fill="#5e1a1a"/>
<rect x="878.4" y="201.8" width="13.6" height="13.2" fill="#ffffc8"/>
<rect x="867.2" y="282.5" width="11.1" height="13.2" fill="#5e1a1a"/>
<rect x="868.7" y="284" width="8.1" height="10.2" fill="#ffffc8"/>
<rect x="882.8" y="282.5" width="10.7" height="13.2" fill="#5e1a1a"/>
<rect x="884.3" y="284" width="7.7" height="10.2" fill="#ffffc8"/>
<rect x="675.3" y="418.5" width="9.9" height="13.8" fill="#5e1a1a"/>
<rect x="676.8" y="420" width="6.9" height="10.8" fill="#ffffc8"/>
<rect x="690" y="418.5" width="10.7" height="13.8" fill="#5e1a1a"/>
<rect x="691.5" y="420" width="7.7" height="10.8" fill="#ffffc8"/>
<rect x="711.8" y="418.5" width="10.1" height="13.8" fill="#5e1a1a"/>
<rect x="713.3" y="420" width="7.1" height="10.8" fill="#ffffc8"/>
<rect x="727.4" y="418.5" width="10.8" height="13.8" fill="#5e1a1a"/>
<rect x="728.9" y="420" width="7.8" height="10.8" fill="#ffffc8"/>
<rect x="786.5" y="461.1" width="17" height="15.5" fill="#5e1a1a"/>
<rect x="788" y="462.6" width="14" height="12.5" fill="#ffffc8"/>
<rect x="814.7" y="461.1" width="15.4" height="15.5" fill="#5e1a1a"/>
<rect x="816.2" y="462.6" width="12.4" height="12.5" fill="#ffffc8"/>
<rect x="863.5" y="461.1" width="16.5" height="15.5" fill="#5e1a1a"/>
<rect x="865" y="462.6" width="13.5" height="12.5" fill="#ffffc8"/>
<rect x="889.5" y="461.1" width="17" height="15.5" fill="#5e1a1a"/>
<rect x="891" y="462.6" width="14" height="12.5" fill="#ffffc8"/>
<rect x="148.1" y="436.5" width="10.3" height="13.7" fill="#5e1a1a"/>
<rect x="149.6" y="438" width="7.3" height="10.7" fill="#ffffc8"/>
<rect x="163.3" y="436.5" width="10.4" height="13.7" fill="#5e1a1a"/>
<rect x="164.8" y="438" width="7.4" height="10.7" fill="#ffffc8"/>
<rect x="209.9" y="436.5" width="10.1" height="13.7" fill="#5e1a1a"/>
<rect x="211.4" y="438" width="7.1" height="10.7" fill="#ffffc8"/>
<rect x="225.4" y="436.5" width="10" height="13.7" fill="#5e1a1a"/>
<rect x="226.9" y="438" width="7" height="10.7" fill="#ffffc8"/>
<rect x="158.3" y="28.1" width="25.2" height="19.9" fill="#5e1a1a"/>
<rect x="159.8" y="29.6" width="22.2" height="16.9" fill="#ffffc8"/>
<rect x="158.3" y="62.5" width="25.2" height="20.7" fill="#5e1a1a"/>
<rect x="159.8" y="64" width="22.2" height="17.7" fill="#ffffc8"/>
<rect x="205.7" y="15.5" width="23.6" height="23.7" fill="#5e1a1a"/>
<rect x="207.2" y="17" width="20.6" height="20.7" fill="#ffffc8"/>
<rect x="205.7" y="70.8" width="23.6" height="23.7" fill="#5e1a1a"/>
<rect x="207.2" y="72.3" width="20.6" height="20.7" fill="#ffffc8"/>
<rect x="423.2" y="236.7" width="16.6" height="15.6" fill="#5e1a1a"/>
<rect x="424.7" y="238.2" width="13.6" height="12.6" fill="#ffffc8"/>
<rect x="423.2" y="262.5" width="16.6" height="15.6" fill="#5e1a1a"/>
<rect x="424.7" y="264" width="13.6" height="12.6" fill="#ffffc8"/>
<rect x="389.5" y="262.5" width="12" height="13.6" fill="#5e1a1a"/>
<rect x="391" y="264" width="9" height="10.6" fill="#ffffc8"/>
<rect x="389.5" y="281.6" width="12" height="13.6" fill="#5e1a1a"/>
<rect x="391" y="283.1" width="9" height="10.6" fill="#ffffc8"/>
<rect x="621.9" y="300.3" width="16.8" height="17.4" fill="#5e1a1a"/>
<rect x="623.4" y="301.8" width="13.8" height="14.4" fill="#ffffc8"/>
<rect x="621.9" y="324.4" width="16.8" height="17.4" fill="#5e1a1a"/>
<rect x="623.4" y="325.9" width="13.8" height="14.4" fill="#ffffc8"/>
<rect x="620.5" y="225.1" width="13.7" height="9.8" fill="#5e1a1a"/>
<rect x="622" y="226.6" width="10.7" height="6.8" fill="#ffffc8"/>
<rect x="620.5" y="239" width="13.7" height="11.7" fill="#5e1a1a"/>
<rect x="622" y="240.5" width="10.7" height="8.7" fill="#ffffc8"/>
<rect x="904.5" y="147.5" width="13.4" height="11.3" fill="#5e1a1a"/>
<rect x="906" y="149" width="10.4" height="8.3" fill="#ffffc8"/>
<rect x="904.5" y="162.5" width="13.4" height="10.6" fill="#5e1a1a"/>
<rect x="906" y="164" width="10.4" height="7.6" fill="#ffffc8"/>
<rect x="417" y="49.5" width="9.2" height="21" fill="#5e1a1a"/>
<rect x="418.5" y="51" width="6.2" height="18" fill="#ffffc8"/>
<rect x="417" y="149.8" width="9.2" height="20.3" fill="#5e1a1a"/>
<rect x="418.5" y="151.3" width="6.2" height="17.3" fill="#ffffc8"/>
<rect x="428.15" y="49.5" width="9.2" height="21" fill="#5e1a1a"/>
<rect x="429.65" y="51" width="6.2" height="18" fill="#ffffc8"/>
<rect x="428.15" y="149.8" width="9.2" height="20.3" fill="#5e1a1a"/>
<rect x="429.65" y="151.3" width="6.2" height="17.3" fill="#ffffc8"/>
<rect x="439.3" y="49.5" width="9.2" height="21" fill="#5e1a1a"/>
<rect x="440.8" y="51" width="6.2" height="18" fill="#ffffc8"/>
<rect x="439.3" y="149.8" width="9.2" height="20.3" fill="#5e1a1a"/>
<rect x="440.8" y="151.3" width="6.2" height="17.3" fill="#ffffc8"/>
<rect x="450.45" y="49.5" width="9.2" height="21" fill="#5e1a1a"/>
<rect x="451.95" y="51" width="6.2" height="18" fill="#ffffc8"/>
<rect x="450.45" y="149.8" width="9.2" height="20.3" fill="#5e1a1a"/>
<rect x="451.95" y="151.3" width="6.2" height="17.3" fill="#ffffc8"/>
<rect x="461.6" y="49.5" width="9.2" height="21" fill="#5e1a1a"/>
<rect x="463.1" y="51" width="6.2" height="18" fill="#ffffc8"/>
<rect x="461.6" y="149.8" width="9.2" height="20.3" fill="#5e1a1a"/>
<rect x="463.1" y="151.3" width="6.2" height="17.3" fill="#ffffc8"/>
<rect x="472.75" y="49.5" width="9.2" height="21" fill="#5e1a1a"/>
<rect x="474.25" y="51" width="6.2" height="18" fill="#ffffc8"/>
<rect x="472.75" y="149.8" width="9.2" height="20.3" fill="#5e1a1a"/>
<rect x="474.25" y="151.3" width="6.2" height="17.3" fill="#ffffc8"/>
<rect x="483.9" y="49.5" width="9.2" height="21" fill="#5e1a1a"/>
<rect x="485.4" y="51" width="6.2" height="18" fill="#ffffc8"/>
<rect x="483.9" y="149.8" width="9.2" height="20.3" fill="#5e1a1a"/>
<rect x="485.4" y="151.3" width="6.2" height="17.3" fill="#ffffc8"/>
<rect x="495.05" y="49.5" width="9.2" height="21" fill="#5e1a1a"/>
<rect x="496.55" y="51" width="6.2" height="18" fill="#ffffc8"/>
<rect x="495.05" y="149.8" width="9.2" height="20.3" fill="#5e1a1a"/>
<rect x="496.55" y="151.3" width="6.2" height="17.3" fill="#ffffc8"/>
<rect x="506.2" y="49.5" width="9.2" height="21" fill="#5e1a1a"/>
<rect x="507.7" y="51" width="6.2" height="18" fill="#ffffc8"/>
<rect x="506.2" y="149.8" width="9.2" height="20.3" fill="#5e1a1a"/>
<rect x="507.7" y="151.3" width="6.2" height="17.3" fill="#ffffc8"/>
<rect x="517.35" y="49.5" width="9.2" height="21" fill="#5e1a1a"/>
<rect x="518.85" y="51" width="6.2" height="18" fill="#ffffc8"/>
<rect x="517.35" y="149.8" width="9.2" height="20.3" fill="#5e1a1a"/>
<rect x="518.85" y="151.3" width="6.2" height="17.3" fill="#ffffc8"/>
<rect x="528.5" y="49.5" width="9.2" height="21" fill="#5e1a1a"/>
<rect x="530" y="51" width="6.2" height="18" fill="#ffffc8"/>
<rect x="528.5" y="149.8" width="9.2" height="20.3" fill="#5e1a1a"/>
<rect x="530" y="151.3" width="6.2" height="17.3" fill="#ffffc8"/>
<rect x="539.65" y="49.5" width="9.2" height="21" fill="#5e1a1a"/>
<rect x="541.15" y="51" width="6.2" height="18" fill="#ffffc8"/>
<rect x="539.65" y="149.8" width="9.2" height="20.3" fill="#5e1a1a"/>
<rect x="541.15" y="151.3" width="6.2" height="17.3" fill="#ffffc8"/>
<rect x="550.8" y="49.5" width="9.2" height="21" fill="#5e1a1a"/>
<rect x="552.3" y="51" width="6.2" height="18" fill="#ffffc8"/>
<rect x="550.8" y="149.8" width="9.2" height="20.3" fill="#5e1a1a"/>
<rect x="552.3" y="151.3" width="6.2" height="17.3" fill="#ffffc8"/>
<rect x="561.95" y="49.5" width="9.2" height="21" fill="#5e1a1a"/>
<rect x="563.45" y="51" width="6.2" height="18" fill="#ffffc8"/>
<rect x="561.95" y="149.8" width="9.2" height="20.3" fill="#5e1a1a"/>
<rect x="563.45" y="151.3" width="6.2" height="17.3" fill="#ffffc8"/>
<rect x="481.55" y="201.1" width="8.4" height="16.8" fill="#5e1a1a"/>
<rect x="483.05" y="202.6" width="5.4" height="13.8" fill="#ffffc8"/>
<rect x="481.55" y="346.8" width="8.4" height="16.3" fill="#5e1a1a"/>
<rect x="483.05" y="348.3" width="5.4" height="13.3" fill="#ffffc8"/>
<rect x="451.8" y="231.2" width="17.1" height="8.4" fill="#5e1a1a"/>
<rect x="453.3" y="232.7" width="14.1" height="5.4" fill="#ffffc8"/>
<rect x="598.3" y="231.2" width="16.8" height="8.4" fill="#5e1a1a"/>
<rect x="599.8" y="232.7" width="13.8" height="5.4" fill="#ffffc8"/>
<rect x="490.14" y="201.1" width="8.4" height="16.8" fill="#5e1a1a"/>
<rect x="491.64" y="202.6" width="5.4" height="13.8" fill="#ffffc8"/>
<rect x="490.14" y="346.8" width="8.4" height="16.3" fill="#5e1a1a"/>
<rect x="491.64" y="348.3" width="5.4" height="13.3" fill="#ffffc8"/>
<rect x="451.8" y="239.79" width="17.1" height="8.4" fill="#5e1a1a"/>
<rect x="453.3" y="241.29" width="14.1" height="5.4" fill="#ffffc8"/>
<rect x="598.3" y="239.79" width="16.8" height="8.4" fill="#5e1a1a"/>
<rect x="599.8" y="241.29" width="13.8" height="5.4" fill="#ffffc8"/>
<rect x="498.73" y="201.1" width="8.4" height="16.8" fill="#5e1a1a"/>
<rect x="500.23" y="202.6" width="5.4" height="13.8" fill="#ffffc8"/>
<rect x="498.73" y="346.8" width="8.4" height="16.3" fill="#5e1a1a"/>
<rect x="500.23" y="348.3" width="5.4" height="13.3" fill="#ffffc8"/>
<rect x="451.8" y="248.38" width="17.1" height="8.4" fill="#5e1a1a"/>
<rect x="453.3" y="249.88" width="14.1" height="5.4" fill="#ffffc8"/>
<rect x="598.3" y="248.38" width="16.8" height="8.4" fill="#5e1a1a"/>
<rect x="599.8" y="249.88" width="13.8" height="5.4" fill="#ffffc8"/>
<rect x="507.32" y="201.1" width="8.4" height="16.8" fill="#5e1a1a"/>
<rect x="508.82" y="202.6" width="5.4" height="13.8" fill="#ffffc8"/>
<rect x="507.32" y="346.8" width="8.4" height="16.3" fill="#5e1a1a"/>
<rect x="508.82" y="348.3" width="5.4" height="13.3" fill="#ffffc8"/>
<rect x="451.8" y="256.97" width="17.1" height="8.4" fill="#5e1a1a"/>
<rect x="453.3" y="258.47" width="14.1" height="5.4" fill="#ffffc8"/>
<rect x="598.3" y="256.97" width="16.8" height="8.4" fill="#5e1a1a"/>
<rect x="599.8" y="258.47" width="13.8" height="5.4" fill="#ffffc8"/>
<rect x="515.91" y="201.1" width="8.4" height="16.8" fill="#5e1a1a"/>
<rect x="517.41" y="202.6" width="5.4" height="13.8" fill="#ffffc8"/>
<rect x="515.91" y="346.8" width="8.4" height="16.3" fill="#5e1a1a"/>
<rect x="517.41" y="348.3" width="5.4" height="13.3" fill="#ffffc8"/>
<rect x="451.8" y="265.56" width="17.1" height="8.4" fill="#5e1a1a"/>
<rect x="453.3" y="267.06" width="14.1" height="5.4" fill="#ffffc8"/>
<rect x="598.3" y="265.56" width="16.8" height="8.4" fill="#5e1a1a"/>
<rect x="599.8" y="267.06" width="13.8" height="5.4" fill="#ffffc8"/>
<rect x="524.5" y="201.1" width="8.4" height="16.8" fill="#5e1a1a"/>
<rect x="526" y="202.6" width="5.4" height="13.8" fill="#ffffc8"/>
<rect x="524.5" y="346.8" width="8.4" height="16.3" fill="#5e1a1a"/>
<rect x="526" y="348.3" width="5.4" height="13.3" fill="#ffffc8"/>
<rect x="451.8" y="274.15" width="17.1" height="8.4" fill="#5e1a1a"/>
<rect x="453.3" y="275.65" width="14.1" height="5.4" fill="#ffffc8"/>
<rect x="598.3" y="274.15" width="16.8" height="8.4" fill="#5e1a1a"/>
<rect x="599.8" y="275.65" width="13.8" height="5.4" fill="#ffffc8"/>
<rect x="533.09" y="201.1" width="8.4" height="16.8" fill="#5e1a1a"/>
<rect x="534.59" y="202.6" width="5.4" height="13.8" fill="#ffffc8"/>
<rect x="533.09" y="346.8" width="8.4" height="16.3" fill="#5e1a1a"/>
<rect x="534.59" y="348.3" width="5.4" height="13.3" fill="#ffffc8"/>
<rect x="451.8" y="282.74" width="17.1" height="8.4" fill="#5e1a1a"/>
<rect x="453.3" y="284.24" width="14.1" height="5.4" fill="#ffffc8"/>
<rect x="598.3" y="282.74" width="16.8" height="8.4" fill="#5e1a1a"/>
<rect x="599.8" y="284.24" width="13.8" height="5.4" fill="#ffffc8"/>
<rect x="541.68" y="201.1" width="8.4" height="16.8" fill="#5e1a1a"/>
<rect x="543.18" y="202.6" width="5.4" height="13.8" fill="#ffffc8"/>
<rect x="541.68" y="346.8" width="8.4" height="16.3" fill="#5e1a1a"/>
<rect x="543.18" y="348.3" width="5.4" height="13.3" fill="#ffffc8"/>
<rect x="451.8" y="291.33" width="17.1" height="8.4" fill="#5e1a1a"/>
<rect x="453.3" y="292.83" width="14.1" height="5.4" fill="#ffffc8"/>
<rect x="598.3" y="291.33" width="16.8" height="8.4" fill="#5e1a1a"/>
<rect x="599.8" y="292.83" width="13.8" height="5.4" fill="#ffffc8"/>
<rect x="550.27" y="201.1" width="8.4" height="16.8" fill="#5e1a1a"/>
<rect x="551.77" y="202.6" width="5.4" height="13.8" fill="#ffffc8"/>
<rect x="550.27" y="346.8" width="8.4" height="16.3" fill="#5e1a1a"/>
<rect x="551.77" y="348.3" width="5.4" height="13.3" fill="#ffffc8"/>
<rect x="451.8" y="299.92" width="17.1" height="8.4" fill="#5e1a1a"/>
<rect x="453.3" y="301.42" width="14.1" height="5.4" fill="#ffffc8"/>
<rect x="598.3" y="299.92" width="16.8" height="8.4" fill="#5e1a1a"/>
<rect x="599.8" y="301.42" width="13.8" height="5.4" fill="#ffffc8"/>
<rect x="558.86" y="201.1" width="8.4" height="16.8" fill="#5e1a1a"/>
<rect x="560.36" y="202.6" width="5.4" height="13.8" fill="#ffffc8"/>
<rect x="558.86" y="346.8" width="8.4" height="16.3" fill="#5e1a1a"/>
<rect x="560.36" y="348.3" width="5.4" height="13.3" fill="#ffffc8"/>
<rect x="451.8" y="308.51" width="17.1" height="8.4" fill="#5e1a1a"/>
<rect x="453.3" y="310.01" width="14.1" height="5.4" fill="#ffffc8"/>
<rect x="598.3" y="308.51" width="16.8" height="8.4" fill="#5e1a1a"/>
<rect x="599.8" y="310.01" width="13.8" height="5.4" fill="#ffffc8"/>
<rect x="567.45" y="201.1" width="8.4" height="16.8" fill="#5e1a1a"/>
<rect x="568.95" y="202.6" width="5.4" height="13.8" fill="#ffffc8"/>
<rect x="567.45" y="346.8" width="8.4" height="16.3" fill="#5e1a1a"/>
<rect x="568.95" y="348.3" width="5.4" height="13.3" fill="#ffffc8"/>
<rect x="451.8" y="317.1" width="17.1" height="8.4" fill="#5e1a1a"/>
<rect x="453.3" y="318.6" width="14.1" height="5.4" fill="#ffffc8"/>
<rect x="598.3" y="317.1" width="16.8" height="8.4" fill="#5e1a1a"/>
<rect x="599.8" y="318.6" width="13.8" height="5.4" fill="#ffffc8"/>
<rect x="576.04" y="201.1" width="8.4" height="16.8" fill="#5e1a1a"/>
<rect x="577.54" y="202.6" width="5.4" height="13.8" fill="#ffffc8"/>
<rect x="576.04" y="346.8" width="8.4" height="16.3" fill="#5e1a1a"/>
<rect x="577.54" y="348.3" width="5.4" height="13.3" fill="#ffffc8"/>
<rect x="451.8" y="325.69" width="17.1" height="8.4" fill="#5e1a1a"/>
<rect x="453.3" y="327.19" width="14.1" height="5.4" fill="#ffffc8"/>
<rect x="598.3" y="325.69" width="16.8" height="8.4" fill="#5e1a1a"/>
<rect x="599.8" y="327.19" width="13.8" height="5.4" fill="#ffffc8"/>
<rect x="656.2" y="294.5" width="8.9" height="16.8" fill="#5e1a1a"/>
<rect x="657.7" y="296" width="5.9" height="13.8" fill="#ffffc8"/>
<rect x="656.2" y="396" width="8.9" height="16.5" fill="#5e1a1a"/>
<rect x="657.7" y="397.5" width="5.9" height="13.5" fill="#ffffc8"/>
<rect x="666.8" y="294.5" width="8.5" height="16.8" fill="#5e1a1a"/>
<rect x="668.3" y="296" width="5.5" height="13.8" fill="#ffffc8"/>
<rect x="666.8" y="396" width="8.5" height="16.5" fill="#5e1a1a"/>
<rect x="668.3" y="397.5" width="5.5" height="13.5" fill="#ffffc8"/>
<rect x="677.5" y="294.5" width="9.4" height="16.8" fill="#5e1a1a"/>
<rect x="679" y="296" width="6.4" height="13.8" fill="#ffffc8"/>
<rect x="677.5" y="396" width="9.4" height="16.5" fill="#5e1a1a"/>
<rect x="679" y="397.5" width="6.4" height="13.5" fill="#ffffc8"/>
<rect x="688.4" y="294.5" width="9.4" height="16.8" fill="#5e1a1a"/>
<rect x="689.9" y="296" width="6.4" height="13.8" fill="#ffffc8"/>
<rect x="688.4" y="396" width="9.4" height="16.5" fill="#5e1a1a"/>
<rect x="689.9" y="397.5" width="6.4" height="13.5" fill="#ffffc8"/>
<rect x="649.5" y="28.5" width="13" height="13" fill="#5e1a1a"/>
<rect x="651" y="30" width="10" height="10" fill="#ffffc8"/>
<rect x="680.8" y="28.5" width="12.7" height="13" fill="#5e1a1a"/>
<rect x="682.3" y="30" width="9.7" height="10" fill="#ffffc8"/>
<rect x="681.5" y="42.5" width="12" height="9" fill="#5e1a1a"/>
<rect x="683" y="44" width="9" height="6" fill="#ffffc8"/>
<rect x="680.8" y="53.2" width="12.7" height="13.6" fill="#5e1a1a"/>
<rect x="682.3" y="54.7" width="9.7" height="10.6" fill="#ffffc8"/>
<rect x="649.5" y="53.2" width="13" height="13.6" fill="#5e1a1a"/>
<rect x="651" y="54.7" width="10" height="10.6" fill="#ffffc8"/>
<rect x="649.5" y="77.5" width="13" height="13" fill="#5e1a1a"/>
<rect x="651" y="79" width="10" height="10" fill="#ffffc8"/>
<rect x="675.3" y="77.5" width="13" height="13" fill="#5e1a1a"/>
<rect x="676.8" y="79" width="10" height="10" fill="#ffffc8"/>
<rect x="649.5" y="107" width="13" height="13.8" fill="#5e1a1a"/>
<rect x="651" y="108.5" width="10" height="10.8" fill="#ffffc8"/>
<rect x="663.5" y="107" width="10" height="13.8" fill="#5e1a1a"/>
<rect x="665" y="108.5" width="7" height="10.8" fill="#ffffc8"/>
<rect x="675.5" y="107" width="13" height="13.8" fill="#5e1a1a"/>
<rect x="677" y="108.5" width="10" height="10.8" fill="#ffffc8"/>
<rect x="653.9" y="143.5" width="13.6" height="13.5" fill="#5e1a1a"/>
<rect x="655.4" y="145" width="10.6" height="10.5" fill="#ffffc8"/>
<rect x="685.2" y="143.5" width="13.1" height="13.5" fill="#5e1a1a"/>
<rect x="686.7" y="145" width="10.1" height="10.5" fill="#ffffc8"/>
<rect x="653.9" y="159.3" width="13.6" height="9.8" fill="#5e1a1a"/>
<rect x="655.4" y="160.8" width="10.6" height="6.8" fill="#ffffc8"/>
<rect x="685.2" y="159.3" width="13.1" height="9.8" fill="#5e1a1a"/>
<rect x="686.7" y="160.8" width="10.1" height="6.8" fill="#ffffc8"/>
<rect x="653.9" y="171.1" width="13.6" height="13.1" fill="#5e1a1a"/>
<rect x="655.4" y="172.6" width="10.6" height="10.1" fill="#ffffc8"/>
<rect x="685.2" y="171.1" width="13.1" height="13.1" fill="#5e1a1a"/>
<rect x="686.7" y="172.6" width="10.1" height="10.1" fill="#ffffc8"/>
<rect x="653.9" y="195" width="13.6" height="13" fill="#5e1a1a"/>
<rect x="655.4" y="196.5" width="10.6" height="10" fill="#ffffc8"/>
<rect x="680.2" y="195" width="13" height="13" fill="#5e1a1a"/>
<rect x="681.7" y="196.5" width="10" height="10" fill="#ffffc8"/>
<rect x="653.9" y="225.1" width="13.6" height="14.4" fill="#5e1a1a"/>
<rect x="655.4" y="226.6" width="10.6" height="11.4" fill="#ffffc8"/>
<rect x="668.2" y="225.1" width="10.5" height="14.4" fill="#5e1a1a"/>
<rect x="669.7" y="226.6" width="7.5" height="11.4" fill="#ffffc8"/>
<rect x="680.2" y="225.1" width="13" height="14.4" fill="#5e1a1a"/>
<rect x="681.7" y="226.6" width="10" height="11.4" fill="#ffffc8"/>
<rect x="850.2" y="148.7" width="13.1" height="13.1" fill="#5e1a1a"/>
<rect x="851.7" y="150.2" width="10.1" height="10.1" fill="#ffffc8"/>
<rect x="881.8" y="148.7" width="12.3" height="13.1" fill="#5e1a1a"/>
<rect x="883.3" y="150.2" width="9.3" height="10.1" fill="#ffffc8"/>
<rect x="881.8" y="164.3" width="12.3" height="8.8" fill="#5e1a1a"/>
<rect x="883.3" y="165.8" width="9.3" height="5.8" fill="#ffffc8"/>
<rect x="850.2" y="174.4" width="13.1" height="13.1" fill="#5e1a1a"/>
<rect x="851.7" y="175.9" width="10.1" height="10.1" fill="#ffffc8"/>
<rect x="881.8" y="174.4" width="12.3" height="13.1" fill="#5e1a1a"/>
<rect x="883.3" y="175.9" width="9.3" height="10.1" fill="#ffffc8"/>
<rect x="852.7" y="228.5" width="13.8" height="13.2" fill="#5e1a1a"/>
<rect x="854.2" y="230" width="10.8" height="10.2" fill="#ffffc8"/>
<rect x="878.5" y="228.5" width="14" height="13.2" fill="#5e1a1a"/>
<rect x="880" y="230" width="11" height="10.2" fill="#ffffc8"/>
<rect x="852.7" y="260" width="13.8" height="12.3" fill="#5e1a1a"/>
<rect x="854.2" y="261.5" width="10.8" height="9.3" fill="#ffffc8"/>
<rect x="867.7" y="260" width="10.1" height="12.3" fill="#5e1a1a"/>
<rect x="869.2" y="261.5" width="7.1" height="9.3" fill="#ffffc8"/>
<rect x="878.5" y="260" width="14" height="12.3" fill="#5e1a1a"/>
<rect x="880" y="261.5" width="11" height="9.3" fill="#ffffc8"/>
<rect x="728.2" y="28.5" width="18.6" height="12" fill="#5e1a1a"/>
<rect x="729.7" y="30" width="15.6" height="9" fill="#ffffc8"/>
<rect x="755.5" y="28.5" width="19" height="12" fill="#5e1a1a"/>
<rect x="757" y="30" width="16" height="9" fill="#ffffc8"/>
<rect x="728.2" y="42.5" width="18.6" height="11.7" fill="#5e1a1a"/>
<rect x="729.7" y="44" width="15.6" height="8.7" fill="#ffffc8"/>
<rect x="755.5" y="42.5" width="19" height="11.7" fill="#5e1a1a"/>
<rect x="757" y="44" width="16" height="8.7" fill="#ffffc8"/>
<rect x="728.2" y="56.2" width="18.6" height="11.1" fill="#5e1a1a"/>
<rect x="729.7" y="57.7" width="15.6" height="8.1" fill="#ffffc8"/>
<rect x="755.5" y="56.2" width="19" height="11.1" fill="#5e1a1a"/>
<rect x="757" y="57.7" width="16" height="8.1" fill="#ffffc8"/>
<rect x="728.2" y="70.1" width="18.6" height="11.2" fill="#5e1a1a"/>
<rect x="729.7" y="71.6" width="15.6" height="8.2" fill="#ffffc8"/>
<rect x="755.5" y="70.1" width="19" height="11.2" fill="#5e1a1a"/>
<rect x="757" y="71.6" width="16" height="8.2" fill="#ffffc8"/>
<rect x="160.8" y="376" width="20.8" height="15.5" fill="#5e1a1a"/>
<rect x="162.3" y="377.5" width="17.8" height="12.5" fill="#ffffc8"/>
<rect x="202.3" y="376" width="20.6" height="15.5" fill="#5e1a1a"/>
<rect x="203.8" y="377.5" width="17.6" height="12.5" fill="#ffffc8"/>
<rect x="160.8" y="392.4" width="20.8" height="15" fill="#5e1a1a"/>
<rect x="162.3" y="393.9" width="17.8" height="12" fill="#ffffc8"/>
<rect x="202.3" y="392.4" width="20.6" height="15" fill="#5e1a1a"/>
<rect x="203.8" y="393.9" width="17.6" height="12" fill="#ffffc8"/>
<rect x="160.8" y="408.5" width="20.8" height="15.3" fill="#5e1a1a"/>
<rect x="162.3" y="410" width="17.8" height="12.3" fill="#ffffc8"/>
<rect x="202.3" y="408.5" width="20.6" height="15.3" fill="#5e1a1a"/>
<rect x="203.8" y="410" width="17.6" height="12.3" fill="#ffffc8"/>
<rect x="257.4" y="431" width="97.1" height="37.7" fill="#5e1a1a"/>
<rect x="258.9" y="432.5" width="94.1" height="34.7" fill="#ffffc8"/>
<rect x="420" y="431" width="98.9" height="37.7" fill="#5e1a1a"/>
<rect x="421.5" y="432.5" width="95.9" height="34.7" fill="#ffffc8"/>
<rect x="16" y="89.4" width="46.3" height="19.4" fill="none" stroke="#ffffff" stroke-width="2"/>
<rect x="86.4" y="89.4" width="45.3" height="19.4" fill="none" stroke="#ffffff" stroke-width="2"/>
<rect x="181.3" y="106.5" width="46.7" height="20.1" fill="none" stroke="#ffffff" stroke-width="2"/>
<rect x="536.8" y="22.3" width="47.2" height="19.4" fill="none" stroke="#ffffff" stroke-width="2"/>
<rect x="590.7" y="49.9" width="47.8" height="20" fill="none" stroke="#ffffff" stroke-width="2"/>
<rect x="590.7" y="80.8" width="47.8" height="20" fill="none" stroke="#ffffff" stroke-width="2"/>
<rect x="590.7" y="111.7" width="47.8" height="20" fill="none" stroke="#ffffff" stroke-width="2"/>
<rect x="590.7" y="142.6" width="47.8" height="20" fill="none" stroke="#ffffff" stroke-width="2"/>
<rect x="590.7" y="173.5" width="47.8" height="20" fill="none" stroke="#ffffff" stroke-width="2"/>
<rect x="472.6" y="175.8" width="46.4" height="19.4" fill="none" stroke="#ffffff" stroke-width="2"/>
<rect x="529" y="175.8" width="47" height="19.4" fill="none" stroke="#ffffff" stroke-width="2"/>
<rect x="600.6" y="201.8" width="27.4" height="14.5" fill="none" stroke="#ffffff" stroke-width="2"/>
<rect x="384" y="300.5" width="34" height="13.5" fill="none" stroke="#ffffff" stroke-width="2"/>
<rect x="400.6" y="320.6" width="46.2" height="19.9" fill="none" stroke="#ffffff" stroke-width="2"/>
<rect x="400.6" y="349.3" width="46.2" height="18.7" fill="none" stroke="#ffffff" stroke-width="2"/>
<rect x="465" y="372.6" width="46.6" height="19.4" fill="none" stroke="#ffffff" stroke-width="2"/>
<rect x="523" y="373.4" width="45.6" height="18.6" fill="none" stroke="#ffffff" stroke-width="2"/>
<rect x="523.5" y="399" width="27.4" height="15.7" fill="none" stroke="#ffffff" stroke-width="2"/>
<rect x="606.7" y="361.2" width="30.1" height="15" fill="none" stroke="#ffffff" stroke-width="2"/>
<rect x="652.6" y="247.8" width="26.9" height="14.2" fill="none" stroke="#ffffff" stroke-width="2"/>
<rect x="848.5" y="124.9" width="27.4" height="14.8" fill="none" stroke="#ffffff" stroke-width="2"/>
<rect x="849" y="198.5" width="47" height="19.1" fill="none" stroke="#ffffff" stroke-width="2"/>
<rect x="865.2" y="281.4" width="28.8" height="15" fill="none" stroke="#ffffff" stroke-width="2"/>
<rect x="673.7" y="417.8" width="28.3" height="15.8" fill="none" stroke="#ffffff" stroke-width="2"/>
<rect x="711.2" y="417.8" width="28.2" height="15.8" fill="none" stroke="#ffffff" stroke-width="2"/>
<rect x="784.4" y="459" width="46.4" height="19.8" fill="none" stroke="#ffffff" stroke-width="2"/>
<rect x="862.4" y="459" width="45.4" height="19.8" fill="none" stroke="#ffffff" stroke-width="2"/>
<rect x="146.1" y="435" width="29.3" height="16.7" fill="none" stroke="#ffffff" stroke-width="2"/>
<rect x="208.2" y="435" width="28.8" height="16.7" fill="none" stroke="#ffffff" stroke-width="2"/>
<rect x="157.3" y="25.6" width="27.7" height="58.8" fill="none" stroke="#ffffff" stroke-width="2"/>
<rect x="198.7" y="14.8" width="37.7" height="80.9" fill="none" stroke="#ffffff" stroke-width="2"/>
<rect x="421.7" y="235" width="19.6" height="47" fill="none" stroke="#ffffff" stroke-width="2"/>
<rect x="388.5" y="261" width="14.4" height="35.7" fill="none" stroke="#ffffff" stroke-width="2"/>
<rect x="619.5" y="298" width="20.5" height="46.1" fill="none" stroke="#ffffff" stroke-width="2"/>
<rect x="620" y="223.9" width="14.7" height="28.1" fill="none" stroke="#ffffff" stroke-width="2"/>
<rect x="903" y="146.7" width="15.8" height="26.9" fill="none" stroke="#ffffff" stroke-width="2"/>
<rect x="411.8" y="71.8" width="164.7" height="76.2" fill="none" stroke="#ffffff" stroke-width="2"/>
<rect x="471" y="221.1" width="123.4" height="122.1" fill="none" stroke="#ffffff" stroke-width="2"/>
<rect x="651" y="313" width="50.7" height="80.3" fill="none" stroke="#ffffff" stroke-width="2"/>
<rect x="647.6" y="26" width="47" height="42" fill="none" stroke="#ffffff" stroke-width="2"/>
<rect x="647.6" y="75.8" width="42.4" height="46.2" fill="none" stroke="#ffffff" stroke-width="2"/>
<rect x="652.6" y="142.3" width="48.2" height="43.9" fill="none" stroke="#ffffff" stroke-width="2"/>
<rect x="652.6" y="193.7" width="42.4" height="47" fill="none" stroke="#ffffff" stroke-width="2"/>
<rect x="849" y="147.5" width="47" height="41.5" fill="none" stroke="#ffffff" stroke-width="2"/>
<rect x="851.7" y="227.4" width="41.3" height="46.4" fill="none" stroke="#ffffff" stroke-width="2"/>
<rect x="727.2" y="27.4" width="48.2" height="55.6" fill="none" stroke="#ffffff" stroke-width="2"/>
<rect x="159.1" y="373.8" width="65.4" height="52" fill="none" stroke="#ffffff" stroke-width="2"/>
<rect x="251.7" y="97.2" width="119.3" height="302.3" fill="none" stroke="#ffffff" stroke-width="2"/>
<rect x="714.8" y="96.4" width="119.8" height="303.8" fill="none" stroke="#ffffff" stroke-width="2"/>
<path d="M-5 145.2 L219 145.2 L219 351 L-5 351" fill="none" stroke="#ffffff" stroke-width="2" stroke-linejoin="round" stroke-linecap="round"/>
<path d="M253.8 428.3 L295 428.3 A16.5 16.5 0 0 1 311.5 411.8 L463.5 411.8 A16.5 16.5 0 0 1 480 428.3 L521.7 428.3 L521.7 471 L480 471 A16.5 16.5 0 0 1 463.5 487.5 L311.5 487.5 A16.5 16.5 0 0 1 295 471 L253.8 471 Z" fill="none" stroke="#ffffff" stroke-width="2.2" stroke-linejoin="round" stroke-linecap="round"/>
<circle cx="555.6" cy="89.6" r="7" fill="none" stroke="#ffffff" stroke-width="2"/>
<rect x="651.25" y="388.75" width="6.7" height="4.8" fill="none" stroke="#ffffff" stroke-width="1.5"/>
<path d="M415.5 14 L600 14 Q612.7 14 612.7 26 L612.7 44 M601.5 32.6 L612.7 44 L623 32.6" fill="none" stroke="#ffffff" stroke-width="2.2" stroke-linejoin="round" stroke-linecap="round"/>
<circle cx="22.6" cy="66.2" r="10.4" fill="#ffffc8"/>
<circle cx="22.6" cy="66.2" r="6.6" fill="#2d2d2d"/>
<circle cx="66.5" cy="66.2" r="10.4" fill="#ffffc8"/>
<circle cx="66.5" cy="66.2" r="6.6" fill="#2d2d2d"/>
<circle cx="109.8" cy="66.2" r="10.4" fill="#ffffc8"/>
<circle cx="109.8" cy="66.2" r="6.6" fill="#2d2d2d"/>
<circle cx="820.9" cy="433.6" r="10.4" fill="#ffffc8"/>
<circle cx="820.9" cy="433.6" r="6.6" fill="#2d2d2d"/>
<circle cx="863.9" cy="433.6" r="10.4" fill="#ffffc8"/>
<circle cx="863.9" cy="433.6" r="6.6" fill="#2d2d2d"/>
<circle cx="908.2" cy="433.6" r="10.4" fill="#ffffc8"/>
<circle cx="908.2" cy="433.6" r="6.6" fill="#2d2d2d"/>
<circle cx="171.9" cy="226.6" r="11.7" fill="#ffffc8"/>
<circle cx="171.9" cy="226.6" r="7.9" fill="#2d2d2d"/>
<circle cx="206.2" cy="226.6" r="11.7" fill="#ffffc8"/>
<circle cx="206.2" cy="226.6" r="7.9" fill="#2d2d2d"/>
<circle cx="171.9" cy="269.5" r="11.7" fill="#ffffc8"/>
<circle cx="171.9" cy="269.5" r="7.9" fill="#2d2d2d"/>
<circle cx="206.2" cy="269.5" r="11.7" fill="#ffffc8"/>
<circle cx="206.2" cy="269.5" r="7.9" fill="#2d2d2d"/>
<rect x="278.8" y="151.9" width="19.2" height="19.2" fill="#ffffc8"/>
<circle cx="288.4" cy="161.8" r="5.6" fill="#2d2d2d"/>
<circle cx="332" cy="161.8" r="9.7" fill="#ffffc8"/>
<circle cx="332" cy="161.8" r="5.6" fill="#2d2d2d"/>
<circle cx="288.4" cy="205.4" r="9.7" fill="#ffffc8"/>
<circle cx="288.4" cy="205.4" r="5.6" fill="#2d2d2d"/>
<circle cx="332" cy="205.4" r="9.7" fill="#ffffc8"/>
<circle cx="332" cy="205.4" r="5.6" fill="#2d2d2d"/>
<circle cx="288.4" cy="249" r="9.7" fill="#ffffc8"/>
<circle cx="288.4" cy="249" r="5.6" fill="#2d2d2d"/>
<circle cx="332" cy="249" r="9.7" fill="#ffffc8"/>
<circle cx="332" cy="249" r="5.6" fill="#2d2d2d"/>
<circle cx="288.4" cy="292.6" r="9.7" fill="#ffffc8"/>
<circle cx="288.4" cy="292.6" r="5.6" fill="#2d2d2d"/>
<circle cx="332" cy="292.6" r="9.7" fill="#ffffc8"/>
<circle cx="332" cy="292.6" r="5.6" fill="#2d2d2d"/>
<circle cx="288.4" cy="336.2" r="9.7" fill="#ffffc8"/>
<circle cx="288.4" cy="336.2" r="5.6" fill="#2d2d2d"/>
<circle cx="332" cy="336.2" r="9.7" fill="#ffffc8"/>
<circle cx="332" cy="336.2" r="5.6" fill="#2d2d2d"/>
<rect x="742.7" y="151.9" width="19.2" height="19.2" fill="#ffffc8"/>
<circle cx="752.3" cy="161.8" r="5.6" fill="#2d2d2d"/>
<circle cx="796.4" cy="161.8" r="9.7" fill="#ffffc8"/>
<circle cx="796.4" cy="161.8" r="5.6" fill="#2d2d2d"/>
<circle cx="752.3" cy="205.4" r="9.7" fill="#ffffc8"/>
<circle cx="752.3" cy="205.4" r="5.6" fill="#2d2d2d"/>
<circle cx="796.4" cy="205.4" r="9.7" fill="#ffffc8"/>
<circle cx="796.4" cy="205.4" r="5.6" fill="#2d2d2d"/>
<circle cx="752.3" cy="249" r="9.7" fill="#ffffc8"/>
<circle cx="752.3" cy="249" r="5.6" fill="#2d2d2d"/>
<circle cx="796.4" cy="249" r="9.7" fill="#ffffc8"/>
<circle cx="796.4" cy="249" r="5.6" fill="#2d2d2d"/>
<circle cx="752.3" cy="292.6" r="9.7" fill="#ffffc8"/>
<circle cx="752.3" cy="292.6" r="5.6" fill="#2d2d2d"/>
<circle cx="796.4" cy="292.6" r="9.7" fill="#ffffc8"/>
<circle cx="796.4" cy="292.6" r="5.6" fill="#2d2d2d"/>
<circle cx="752.3" cy="336.2" r="9.7" fill="#ffffc8"/>
<circle cx="752.3" cy="336.2" r="5.6" fill="#2d2d2d"/>
<circle cx="796.4" cy="336.2" r="9.7" fill="#ffffc8"/>
<circle cx="796.4" cy="336.2" r="5.6" fill="#2d2d2d"/>
<path d="M258.9 159.8 L263.9 159.8 L267.5 155 L269.5 155 L269.5 168.5 L267.5 168.5 L263.9 164.2 L258.9 164.2 Z" fill="#ffffff"/>
<path d="M722.8 159.8 L727.8 159.8 L731.4 155 L733.4 155 L733.4 168.5 L731.4 168.5 L727.8 164.2 L722.8 164.2 Z" fill="#ffffff"/>
<circle cx="44" cy="26" r="22.1" fill="#2d2d2d"/>
<circle cx="44" cy="26" r="12.5" fill="#ffffc8"/>
<circle cx="568.1" cy="463.4" r="22.1" fill="#2d2d2d"/>
<circle cx="568.1" cy="463.4" r="12.5" fill="#ffffc8"/>
<circle cx="885.8" cy="360.3" r="22.1" fill="#2d2d2d"/>
<circle cx="885.8" cy="360.3" r="12.5" fill="#ffffc8"/>
<circle cx="293.2" cy="47.5" r="21.4" fill="#ffffff"/>
<circle cx="636.8" cy="450.4" r="21.6" fill="#ffffff"/>
<circle cx="125.6" cy="145.3" r="28.5" fill="#ffffc8"/>
<circle cx="125.6" cy="145.3" r="19.9" fill="#ffffff"/>
<circle cx="125.5" cy="351.2" r="28.5" fill="#ffffc8"/>
<circle cx="125.5" cy="351.2" r="19.9" fill="#ffffff"/>
<text x="69.25" y="44.25" font-family="Liberation Mono" font-weight="normal" font-size="23.52" fill="#ffffff" stroke="#ffffff" stroke-width="0.5" stroke-linejoin="round" textLength="62.5" lengthAdjust="spacingAndGlyphs">LED1</text>
<text x="14.05" y="131.15" font-family="Liberation Mono" font-weight="normal" font-size="22.15" fill="#ffffff" stroke="#ffffff" stroke-width="0.5" stroke-linejoin="round" textLength="30.7" lengthAdjust="spacingAndGlyphs">R1</text>
<text x="65.75" y="131.15" font-family="Liberation Mono" font-weight="normal" font-size="22.15" fill="#ffffff" stroke="#ffffff" stroke-width="0.5" stroke-linejoin="round" textLength="30.4" lengthAdjust="spacingAndGlyphs">R2</text>
<text x="149.15" y="124.75" font-family="Liberation Mono" font-weight="normal" font-size="22" fill="#ffffff" stroke="#ffffff" stroke-width="0.5" stroke-linejoin="round" textLength="30.4" lengthAdjust="spacingAndGlyphs">C1</text>
<text x="317.25" y="89.75" font-family="Liberation Mono" font-weight="normal" font-size="22.15" fill="#ffffff" stroke="#ffffff" stroke-width="0.5" stroke-linejoin="round" textLength="30.5" lengthAdjust="spacingAndGlyphs">J2</text>
<text x="364.75" y="29.15" font-family="Liberation Mono" font-weight="normal" font-size="22.61" fill="#ffffff" stroke="#ffffff" stroke-width="0.5" stroke-linejoin="round" textLength="46.3" lengthAdjust="spacingAndGlyphs">C16</text>
<text x="364.75" y="52.55" font-family="Liberation Mono" font-weight="normal" font-size="23.22" fill="#ffffff" stroke="#ffffff" stroke-width="0.5" stroke-linejoin="round" textLength="46.3" lengthAdjust="spacingAndGlyphs">C12</text>
<text x="364.75" y="74.75" font-family="Liberation Mono" font-weight="normal" font-size="22.76" fill="#ffffff" stroke="#ffffff" stroke-width="0.5" stroke-linejoin="round" textLength="46.3" lengthAdjust="spacingAndGlyphs">C13</text>
<text x="369.45" y="97.55" font-family="Liberation Mono" font-weight="normal" font-size="23.22" fill="#ffffff" stroke="#ffffff" stroke-width="0.5" stroke-linejoin="round" textLength="44.3" lengthAdjust="spacingAndGlyphs">C14</text>
<text x="370.15" y="118.95" font-family="Liberation Mono" font-weight="normal" font-size="23.07" fill="#ffffff" stroke="#ffffff" stroke-width="0.5" stroke-linejoin="round" textLength="43.6" lengthAdjust="spacingAndGlyphs">C17</text>
<text x="370.15" y="139.25" font-family="Liberation Mono" font-weight="normal" font-size="22.31" fill="#ffffff" stroke="#ffffff" stroke-width="0.5" stroke-linejoin="round" textLength="43.6" lengthAdjust="spacingAndGlyphs">R17</text>
<text x="416.25" y="45.75" font-family="Liberation Mono" font-weight="normal" font-size="21.4" fill="#ffffff" stroke="#ffffff" stroke-width="0.5" stroke-linejoin="round" textLength="39.5" lengthAdjust="spacingAndGlyphs">IC1</text>
<text x="502.15" y="39.95" font-family="Liberation Mono" font-weight="normal" font-size="22.31" fill="#ffffff" stroke="#ffffff" stroke-width="0.5" stroke-linejoin="round" textLength="30.6" lengthAdjust="spacingAndGlyphs">C9</text>
<text x="648.45" y="22.35" font-family="Liberation Mono" font-weight="normal" font-size="22.91" fill="#ffffff" stroke="#ffffff" stroke-width="0.5" stroke-linejoin="round" textLength="41.6" lengthAdjust="spacingAndGlyphs">IC4</text>
<text x="729.65" y="21.05" font-family="Liberation Mono" font-weight="normal" font-size="23.22" fill="#ffffff" stroke="#ffffff" stroke-width="0.5" stroke-linejoin="round" textLength="46.5" lengthAdjust="spacingAndGlyphs">RN1</text>
<text x="786.85" y="88.75" font-family="Liberation Mono" font-weight="normal" font-size="22" fill="#ffffff" stroke="#ffffff" stroke-width="0.5" stroke-linejoin="round" textLength="29.9" lengthAdjust="spacingAndGlyphs">J3</text>
<text x="881.15" y="131.15" font-family="Liberation Mono" font-weight="normal" font-size="23.22" fill="#ffffff" stroke="#ffffff" stroke-width="0.5" stroke-linejoin="round" textLength="46.2" lengthAdjust="spacingAndGlyphs">R13</text>
<text x="655.95" y="141.75" font-family="Liberation Mono" font-weight="normal" font-size="26.56" fill="#ffffff" stroke="#ffffff" stroke-width="0.5" stroke-linejoin="round" textLength="42.3" lengthAdjust="spacingAndGlyphs">IC6</text>
<text x="383.25" y="207.85" font-family="Liberation Mono" font-weight="normal" font-size="22.61" fill="#ffffff" stroke="#ffffff" stroke-width="0.5" stroke-linejoin="round" textLength="30.9" lengthAdjust="spacingAndGlyphs">C7</text>
<text x="419.75" y="207.85" font-family="Liberation Mono" font-weight="normal" font-size="22.61" fill="#ffffff" stroke="#ffffff" stroke-width="0.5" stroke-linejoin="round" textLength="45" lengthAdjust="spacingAndGlyphs">C10</text>
<text x="424.55" y="227.75" font-family="Liberation Mono" font-weight="normal" font-size="22.76" fill="#ffffff" stroke="#ffffff" stroke-width="0.5" stroke-linejoin="round" textLength="39.2" lengthAdjust="spacingAndGlyphs">IC2</text>
<text x="421.15" y="312.75" font-family="Liberation Mono" font-weight="normal" font-size="20.03" fill="#ffffff" stroke="#ffffff" stroke-width="0.5" stroke-linejoin="round" textLength="29.9" lengthAdjust="spacingAndGlyphs">C4</text>
<text x="617.65" y="292.55" font-family="Liberation Mono" font-weight="normal" font-size="22.15" fill="#ffffff" stroke="#ffffff" stroke-width="0.5" stroke-linejoin="round" textLength="46" lengthAdjust="spacingAndGlyphs">C15</text>
<text x="665.85" y="284.75" font-family="Liberation Mono" font-weight="normal" font-size="22.61" fill="#ffffff" stroke="#ffffff" stroke-width="0.5" stroke-linejoin="round" textLength="32.1" lengthAdjust="spacingAndGlyphs">R9</text>
<text x="390.45" y="391.45" font-family="Liberation Mono" font-weight="normal" font-size="22.15" fill="#ffffff" stroke="#ffffff" stroke-width="0.5" stroke-linejoin="round" textLength="30" lengthAdjust="spacingAndGlyphs">R5</text>
<text x="429.95" y="391.45" font-family="Liberation Mono" font-weight="normal" font-size="22.15" fill="#ffffff" stroke="#ffffff" stroke-width="0.5" stroke-linejoin="round" textLength="30.6" lengthAdjust="spacingAndGlyphs">C8</text>
<text x="527.75" y="436.75" font-family="Liberation Mono" font-weight="normal" font-size="22" fill="#ffffff" stroke="#ffffff" stroke-width="0.5" stroke-linejoin="round" textLength="30.6" lengthAdjust="spacingAndGlyphs">R6</text>
<text x="597.45" y="396.75" font-family="Liberation Mono" font-weight="normal" font-size="25.04" fill="#ffffff" stroke="#ffffff" stroke-width="0.5" stroke-linejoin="round" textLength="48.3" lengthAdjust="spacingAndGlyphs">R15</text>
<text x="612.45" y="416.25" font-family="Liberation Mono" font-weight="normal" font-size="25.04" fill="#ffffff" stroke="#ffffff" stroke-width="0.5" stroke-linejoin="round" textLength="42.3" lengthAdjust="spacingAndGlyphs">IC3</text>
<text x="262.45" y="422.95" font-family="Liberation Mono" font-weight="normal" font-size="22" fill="#ffffff" stroke="#ffffff" stroke-width="0.5" stroke-linejoin="round" textLength="29.8" lengthAdjust="spacingAndGlyphs">Y1</text>
<text x="173.95" y="371.35" font-family="Liberation Mono" font-weight="normal" font-size="22.61" fill="#ffffff" stroke="#ffffff" stroke-width="0.5" stroke-linejoin="round" textLength="46.6" lengthAdjust="spacingAndGlyphs">DN1</text>
<text x="145.75" y="471.75" font-family="Liberation Mono" font-weight="normal" font-size="20.49" fill="#ffffff" stroke="#ffffff" stroke-width="0.5" stroke-linejoin="round" textLength="31" lengthAdjust="spacingAndGlyphs">R3</text>
<text x="205.75" y="471.75" font-family="Liberation Mono" font-weight="normal" font-size="20.49" fill="#ffffff" stroke="#ffffff" stroke-width="0.5" stroke-linejoin="round" textLength="31" lengthAdjust="spacingAndGlyphs">R4</text>
<text x="671.15" y="452.05" font-family="Liberation Mono" font-weight="normal" font-size="19.12" fill="#ffffff" stroke="#ffffff" stroke-width="0.5" stroke-linejoin="round" textLength="29.5" lengthAdjust="spacingAndGlyphs">R8</text>
<text x="752.25" y="433.35" font-family="Liberation Mono" font-weight="normal" font-size="23.82" fill="#ffffff" stroke="#ffffff" stroke-width="0.5" stroke-linejoin="round" textLength="30.4" lengthAdjust="spacingAndGlyphs">R7</text>
<text x="855.15" y="318.25" font-family="Liberation Mono" font-weight="normal" font-size="22.15" fill="#ffffff" stroke="#ffffff" stroke-width="0.5" stroke-linejoin="round" textLength="46.6" lengthAdjust="spacingAndGlyphs">R10</text>
<text x="845.85" y="405.25" font-family="Liberation Mono" font-weight="normal" font-size="22.15" fill="#ffffff" stroke="#ffffff" stroke-width="0.5" stroke-linejoin="round" textLength="61.9" lengthAdjust="spacingAndGlyphs">LED2</text>
<text x="0" y="0" transform="translate(151.75 83.25) rotate(-90)" font-family="Liberation Mono" font-weight="normal" font-size="23.98" fill="#ffffff" stroke="#ffffff" stroke-width="0.5" stroke-linejoin="round" textLength="30" lengthAdjust="spacingAndGlyphs">C2</text>
<text x="0" y="0" transform="translate(259.05 76.45) rotate(-90)" font-family="Liberation Mono" font-weight="normal" font-size="25.95" fill="#ffffff" stroke="#ffffff" stroke-width="0.5" stroke-linejoin="round" textLength="45.8" lengthAdjust="spacingAndGlyphs">FB1</text>
<text x="0" y="0" transform="translate(242.45 269.25) rotate(-90)" font-family="Liberation Mono" font-weight="normal" font-size="26.1" fill="#ffffff" stroke="#ffffff" stroke-width="0.5" stroke-linejoin="round" textLength="32.3" lengthAdjust="spacingAndGlyphs">J1</text>
<text x="0" y="0" transform="translate(391.75 186.95) rotate(-90)" font-family="Liberation Mono" font-weight="normal" font-size="23.82" fill="#ffffff" stroke="#ffffff" stroke-width="0.5" stroke-linejoin="round" textLength="47.7" lengthAdjust="spacingAndGlyphs">R16</text>
<text x="0" y="0" transform="translate(417.45 242.05) rotate(-90)" font-family="Liberation Mono" font-weight="normal" font-size="24.89" fill="#ffffff" stroke="#ffffff" stroke-width="0.5" stroke-linejoin="round" textLength="30.5" lengthAdjust="spacingAndGlyphs">C6</text>
<text x="0" y="0" transform="translate(385.75 289.85) rotate(-90)" font-family="Liberation Mono" font-weight="normal" font-size="19.42" fill="#ffffff" stroke="#ffffff" stroke-width="0.5" stroke-linejoin="round" textLength="29" lengthAdjust="spacingAndGlyphs">C3</text>
<text x="0" y="0" transform="translate(390.25 346.55) rotate(-90)" font-family="Liberation Mono" font-weight="normal" font-size="21.24" fill="#ffffff" stroke="#ffffff" stroke-width="0.5" stroke-linejoin="round" textLength="30.8" lengthAdjust="spacingAndGlyphs">C5</text>
<text x="0" y="0" transform="translate(589.35 421.05) rotate(-90)" font-family="Liberation Mono" font-weight="normal" font-size="22.91" fill="#ffffff" stroke="#ffffff" stroke-width="0.5" stroke-linejoin="round" textLength="47.3" lengthAdjust="spacingAndGlyphs">C11</text>
<text x="0" y="0" transform="translate(709.25 117.55) rotate(-90)" font-family="Liberation Mono" font-weight="normal" font-size="24.28" fill="#ffffff" stroke="#ffffff" stroke-width="0.5" stroke-linejoin="round" textLength="39.8" lengthAdjust="spacingAndGlyphs">IC5</text>
<text x="0" y="0" transform="translate(711.75 228.15) rotate(-90)" font-family="Liberation Mono" font-weight="normal" font-size="20.49" fill="#ffffff" stroke="#ffffff" stroke-width="0.5" stroke-linejoin="round" textLength="39.9" lengthAdjust="spacingAndGlyphs">IC7</text>
<text x="0" y="0" transform="translate(830.75 185.75) rotate(-90)" font-family="Liberation Mono" font-weight="normal" font-size="25.04" fill="#ffffff" stroke="#ffffff" stroke-width="0.5" stroke-linejoin="round" textLength="41.3" lengthAdjust="spacingAndGlyphs">IC8</text>
<text x="0" y="0" transform="translate(832.05 244.25) rotate(-90)" font-family="Liberation Mono" font-weight="normal" font-size="25.49" fill="#ffffff" stroke="#ffffff" stroke-width="0.5" stroke-linejoin="round" textLength="47.3" lengthAdjust="spacingAndGlyphs">C18</text>
<text x="0" y="0" transform="translate(922.65 220.85) rotate(-90)" font-family="Liberation Mono" font-weight="normal" font-size="22.15" fill="#ffffff" stroke="#ffffff" stroke-width="0.5" stroke-linejoin="round" textLength="43.6" lengthAdjust="spacingAndGlyphs">R14</text>
<text x="0" y="0" transform="translate(923.75 275.55) rotate(-90)" font-family="Liberation Mono" font-weight="normal" font-size="23.98" fill="#ffffff" stroke="#ffffff" stroke-width="0.5" stroke-linejoin="round" textLength="41.1" lengthAdjust="spacingAndGlyphs">IC9</text>
<text x="0" y="0" transform="translate(801.75 453.25) rotate(-90)" font-family="Liberation Mono" font-weight="normal" font-size="22.61" fill="#ffffff" stroke="#ffffff" stroke-width="0.5" stroke-linejoin="round" textLength="45.3" lengthAdjust="spacingAndGlyphs">R11</text>
<text x="0" y="0" transform="translate(893.75 454.85) rotate(-90)" font-family="Liberation Mono" font-weight="normal" font-size="24.13" fill="#ffffff" stroke="#ffffff" stroke-width="0.5" stroke-linejoin="round" textLength="46.9" lengthAdjust="spacingAndGlyphs">R12</text>
<text x="0" y="0" transform="translate(116.8 281) rotate(-90)" font-family="Liberation Mono" font-weight="normal" font-size="15.17" fill="#f0e8e8" stroke="none" stroke-width="0" stroke-linejoin="round" textLength="79" lengthAdjust="spacingAndGlyphs">AMP-787780</text>
<text x="0" y="0" transform="translate(726.1 196.1) rotate(-90)" font-family="Liberation Mono" font-weight="normal" font-size="11.38" fill="#f0e8e8" stroke="none" stroke-width="0" stroke-linejoin="round" textLength="79" lengthAdjust="spacingAndGlyphs">NC7WZ07P6X</text>
<text x="468" y="101.8" font-family="Liberation Mono" font-weight="normal" font-size="12.29" fill="#f0e8e8" stroke="none" stroke-width="0" stroke-linejoin="round" textLength="68.9" lengthAdjust="spacingAndGlyphs">MAX3243UI</text>
<text x="505" y="285.4" font-family="Liberation Mono" font-weight="normal" font-size="13.35" fill="#f0e8e8" stroke="none" stroke-width="0" stroke-linejoin="round" textLength="55.8" lengthAdjust="spacingAndGlyphs">FT2232D</text>
<text x="370.1" y="450.3" font-family="Liberation Mono" font-weight="normal" font-size="12.59" fill="#f0e8e8" stroke="none" stroke-width="0" stroke-linejoin="round" textLength="31.7" lengthAdjust="spacingAndGlyphs">6MHz</text>
<text x="653.9" y="380.5" font-family="Liberation Mono" font-weight="normal" font-size="13.2" fill="#f0e8e8" stroke="none" stroke-width="0" stroke-linejoin="round" textLength="34.6" lengthAdjust="spacingAndGlyphs">AT93C</text>
<path d="M689.5 380.5 L689.5 372.5 L693.5 372.5" fill="none" stroke="#ffffff" stroke-width="1.2" stroke-linejoin="round" stroke-linecap="round"/></svg>
</body></html>
